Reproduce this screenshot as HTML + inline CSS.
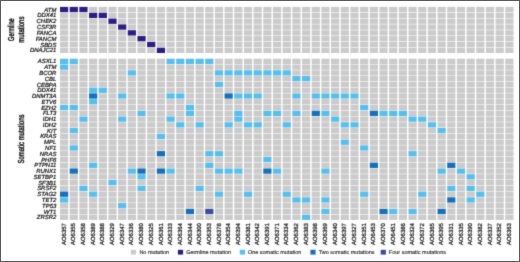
<!DOCTYPE html>
<html><head><meta charset="utf-8"><style>
html,body{margin:0;padding:0;background:#fff;}
#c{position:relative;width:520px;height:262px;overflow:hidden;background:#fff;}
#c svg{position:absolute;left:0;top:0;}
text{text-rendering:geometricPrecision;}
.g{font-family:"Liberation Sans",sans-serif;font-style:italic;font-size:59.5px;fill:#111;stroke:#111;stroke-width:2.2px;text-anchor:end;}
.c{font-family:"Liberation Sans",sans-serif;font-size:5.95px;fill:#111;stroke:#111;stroke-width:0.22px;text-anchor:end;}
.l{font-family:"Liberation Sans",sans-serif;font-size:5.5px;fill:#222;stroke:#222;stroke-width:0.12px;}
.b{font-family:"Liberation Sans",sans-serif;font-size:8.6px;fill:#111;stroke:#111;stroke-width:0.42px;text-anchor:middle;}
</style></head><body><div id="c">
<svg width="520" height="262" viewBox="0 0 520 262">
<defs><filter id="bl" x="0" y="0" width="100%" height="100%" filterUnits="userSpaceOnUse" color-interpolation-filters="sRGB"><feConvolveMatrix order="3" kernelMatrix="1 6 1 6 36 6 1 6 1" edgeMode="duplicate" preserveAlpha="true"/></filter></defs>
<g filter="url(#bl)">
<rect x="0" y="0" width="520" height="262" fill="#fff"/>
<rect x="60.00" y="6.90" width="8.2" height="5.3" fill="#2d1c84"/><rect x="69.68" y="6.90" width="8.2" height="5.3" fill="#2d1c84"/><rect x="79.36" y="6.90" width="8.2" height="5.3" fill="#2d1c84"/><rect x="89.04" y="6.90" width="8.2" height="5.3" fill="#cbcbcb"/><rect x="98.72" y="6.90" width="8.2" height="5.3" fill="#cbcbcb"/><rect x="108.40" y="6.90" width="8.2" height="5.3" fill="#cbcbcb"/><rect x="118.08" y="6.90" width="8.2" height="5.3" fill="#cbcbcb"/><rect x="127.76" y="6.90" width="8.2" height="5.3" fill="#cbcbcb"/><rect x="137.44" y="6.90" width="8.2" height="5.3" fill="#cbcbcb"/><rect x="147.12" y="6.90" width="8.2" height="5.3" fill="#cbcbcb"/><rect x="156.80" y="6.90" width="8.2" height="5.3" fill="#cbcbcb"/><rect x="166.48" y="6.90" width="8.2" height="5.3" fill="#cbcbcb"/><rect x="176.16" y="6.90" width="8.2" height="5.3" fill="#cbcbcb"/><rect x="185.84" y="6.90" width="8.2" height="5.3" fill="#cbcbcb"/><rect x="195.52" y="6.90" width="8.2" height="5.3" fill="#cbcbcb"/><rect x="205.20" y="6.90" width="8.2" height="5.3" fill="#cbcbcb"/><rect x="214.88" y="6.90" width="8.2" height="5.3" fill="#cbcbcb"/><rect x="224.56" y="6.90" width="8.2" height="5.3" fill="#cbcbcb"/><rect x="234.24" y="6.90" width="8.2" height="5.3" fill="#cbcbcb"/><rect x="243.92" y="6.90" width="8.2" height="5.3" fill="#cbcbcb"/><rect x="253.60" y="6.90" width="8.2" height="5.3" fill="#cbcbcb"/><rect x="263.28" y="6.90" width="8.2" height="5.3" fill="#cbcbcb"/><rect x="272.96" y="6.90" width="8.2" height="5.3" fill="#cbcbcb"/><rect x="282.64" y="6.90" width="8.2" height="5.3" fill="#cbcbcb"/><rect x="292.32" y="6.90" width="8.2" height="5.3" fill="#cbcbcb"/><rect x="302.00" y="6.90" width="8.2" height="5.3" fill="#cbcbcb"/><rect x="311.68" y="6.90" width="8.2" height="5.3" fill="#cbcbcb"/><rect x="321.36" y="6.90" width="8.2" height="5.3" fill="#cbcbcb"/><rect x="331.04" y="6.90" width="8.2" height="5.3" fill="#cbcbcb"/><rect x="340.72" y="6.90" width="8.2" height="5.3" fill="#cbcbcb"/><rect x="350.40" y="6.90" width="8.2" height="5.3" fill="#cbcbcb"/><rect x="360.08" y="6.90" width="8.2" height="5.3" fill="#cbcbcb"/><rect x="369.76" y="6.90" width="8.2" height="5.3" fill="#cbcbcb"/><rect x="379.44" y="6.90" width="8.2" height="5.3" fill="#cbcbcb"/><rect x="389.12" y="6.90" width="8.2" height="5.3" fill="#cbcbcb"/><rect x="398.80" y="6.90" width="8.2" height="5.3" fill="#cbcbcb"/><rect x="408.48" y="6.90" width="8.2" height="5.3" fill="#cbcbcb"/><rect x="418.16" y="6.90" width="8.2" height="5.3" fill="#cbcbcb"/><rect x="427.84" y="6.90" width="8.2" height="5.3" fill="#cbcbcb"/><rect x="437.52" y="6.90" width="8.2" height="5.3" fill="#cbcbcb"/><rect x="447.20" y="6.90" width="8.2" height="5.3" fill="#cbcbcb"/><rect x="456.88" y="6.90" width="8.2" height="5.3" fill="#cbcbcb"/><rect x="466.56" y="6.90" width="8.2" height="5.3" fill="#cbcbcb"/><rect x="476.24" y="6.90" width="8.2" height="5.3" fill="#cbcbcb"/><rect x="485.92" y="6.90" width="8.2" height="5.3" fill="#cbcbcb"/><rect x="495.60" y="6.90" width="8.2" height="5.3" fill="#cbcbcb"/><rect x="505.28" y="6.90" width="8.2" height="5.3" fill="#cbcbcb"/><rect x="60.00" y="12.73" width="8.2" height="5.3" fill="#cbcbcb"/><rect x="69.68" y="12.73" width="8.2" height="5.3" fill="#cbcbcb"/><rect x="79.36" y="12.73" width="8.2" height="5.3" fill="#cbcbcb"/><rect x="89.04" y="12.73" width="8.2" height="5.3" fill="#2d1c84"/><rect x="98.72" y="12.73" width="8.2" height="5.3" fill="#2d1c84"/><rect x="108.40" y="12.73" width="8.2" height="5.3" fill="#cbcbcb"/><rect x="118.08" y="12.73" width="8.2" height="5.3" fill="#cbcbcb"/><rect x="127.76" y="12.73" width="8.2" height="5.3" fill="#cbcbcb"/><rect x="137.44" y="12.73" width="8.2" height="5.3" fill="#cbcbcb"/><rect x="147.12" y="12.73" width="8.2" height="5.3" fill="#cbcbcb"/><rect x="156.80" y="12.73" width="8.2" height="5.3" fill="#cbcbcb"/><rect x="166.48" y="12.73" width="8.2" height="5.3" fill="#cbcbcb"/><rect x="176.16" y="12.73" width="8.2" height="5.3" fill="#cbcbcb"/><rect x="185.84" y="12.73" width="8.2" height="5.3" fill="#cbcbcb"/><rect x="195.52" y="12.73" width="8.2" height="5.3" fill="#cbcbcb"/><rect x="205.20" y="12.73" width="8.2" height="5.3" fill="#cbcbcb"/><rect x="214.88" y="12.73" width="8.2" height="5.3" fill="#cbcbcb"/><rect x="224.56" y="12.73" width="8.2" height="5.3" fill="#cbcbcb"/><rect x="234.24" y="12.73" width="8.2" height="5.3" fill="#cbcbcb"/><rect x="243.92" y="12.73" width="8.2" height="5.3" fill="#cbcbcb"/><rect x="253.60" y="12.73" width="8.2" height="5.3" fill="#cbcbcb"/><rect x="263.28" y="12.73" width="8.2" height="5.3" fill="#cbcbcb"/><rect x="272.96" y="12.73" width="8.2" height="5.3" fill="#cbcbcb"/><rect x="282.64" y="12.73" width="8.2" height="5.3" fill="#cbcbcb"/><rect x="292.32" y="12.73" width="8.2" height="5.3" fill="#cbcbcb"/><rect x="302.00" y="12.73" width="8.2" height="5.3" fill="#cbcbcb"/><rect x="311.68" y="12.73" width="8.2" height="5.3" fill="#cbcbcb"/><rect x="321.36" y="12.73" width="8.2" height="5.3" fill="#cbcbcb"/><rect x="331.04" y="12.73" width="8.2" height="5.3" fill="#cbcbcb"/><rect x="340.72" y="12.73" width="8.2" height="5.3" fill="#cbcbcb"/><rect x="350.40" y="12.73" width="8.2" height="5.3" fill="#cbcbcb"/><rect x="360.08" y="12.73" width="8.2" height="5.3" fill="#cbcbcb"/><rect x="369.76" y="12.73" width="8.2" height="5.3" fill="#cbcbcb"/><rect x="379.44" y="12.73" width="8.2" height="5.3" fill="#cbcbcb"/><rect x="389.12" y="12.73" width="8.2" height="5.3" fill="#cbcbcb"/><rect x="398.80" y="12.73" width="8.2" height="5.3" fill="#cbcbcb"/><rect x="408.48" y="12.73" width="8.2" height="5.3" fill="#cbcbcb"/><rect x="418.16" y="12.73" width="8.2" height="5.3" fill="#cbcbcb"/><rect x="427.84" y="12.73" width="8.2" height="5.3" fill="#cbcbcb"/><rect x="437.52" y="12.73" width="8.2" height="5.3" fill="#cbcbcb"/><rect x="447.20" y="12.73" width="8.2" height="5.3" fill="#cbcbcb"/><rect x="456.88" y="12.73" width="8.2" height="5.3" fill="#cbcbcb"/><rect x="466.56" y="12.73" width="8.2" height="5.3" fill="#cbcbcb"/><rect x="476.24" y="12.73" width="8.2" height="5.3" fill="#cbcbcb"/><rect x="485.92" y="12.73" width="8.2" height="5.3" fill="#cbcbcb"/><rect x="495.60" y="12.73" width="8.2" height="5.3" fill="#cbcbcb"/><rect x="505.28" y="12.73" width="8.2" height="5.3" fill="#cbcbcb"/><rect x="60.00" y="18.56" width="8.2" height="5.3" fill="#cbcbcb"/><rect x="69.68" y="18.56" width="8.2" height="5.3" fill="#cbcbcb"/><rect x="79.36" y="18.56" width="8.2" height="5.3" fill="#cbcbcb"/><rect x="89.04" y="18.56" width="8.2" height="5.3" fill="#cbcbcb"/><rect x="98.72" y="18.56" width="8.2" height="5.3" fill="#cbcbcb"/><rect x="108.40" y="18.56" width="8.2" height="5.3" fill="#2d1c84"/><rect x="118.08" y="18.56" width="8.2" height="5.3" fill="#cbcbcb"/><rect x="127.76" y="18.56" width="8.2" height="5.3" fill="#cbcbcb"/><rect x="137.44" y="18.56" width="8.2" height="5.3" fill="#cbcbcb"/><rect x="147.12" y="18.56" width="8.2" height="5.3" fill="#cbcbcb"/><rect x="156.80" y="18.56" width="8.2" height="5.3" fill="#cbcbcb"/><rect x="166.48" y="18.56" width="8.2" height="5.3" fill="#cbcbcb"/><rect x="176.16" y="18.56" width="8.2" height="5.3" fill="#cbcbcb"/><rect x="185.84" y="18.56" width="8.2" height="5.3" fill="#cbcbcb"/><rect x="195.52" y="18.56" width="8.2" height="5.3" fill="#cbcbcb"/><rect x="205.20" y="18.56" width="8.2" height="5.3" fill="#cbcbcb"/><rect x="214.88" y="18.56" width="8.2" height="5.3" fill="#cbcbcb"/><rect x="224.56" y="18.56" width="8.2" height="5.3" fill="#cbcbcb"/><rect x="234.24" y="18.56" width="8.2" height="5.3" fill="#cbcbcb"/><rect x="243.92" y="18.56" width="8.2" height="5.3" fill="#cbcbcb"/><rect x="253.60" y="18.56" width="8.2" height="5.3" fill="#cbcbcb"/><rect x="263.28" y="18.56" width="8.2" height="5.3" fill="#cbcbcb"/><rect x="272.96" y="18.56" width="8.2" height="5.3" fill="#cbcbcb"/><rect x="282.64" y="18.56" width="8.2" height="5.3" fill="#cbcbcb"/><rect x="292.32" y="18.56" width="8.2" height="5.3" fill="#cbcbcb"/><rect x="302.00" y="18.56" width="8.2" height="5.3" fill="#cbcbcb"/><rect x="311.68" y="18.56" width="8.2" height="5.3" fill="#cbcbcb"/><rect x="321.36" y="18.56" width="8.2" height="5.3" fill="#cbcbcb"/><rect x="331.04" y="18.56" width="8.2" height="5.3" fill="#cbcbcb"/><rect x="340.72" y="18.56" width="8.2" height="5.3" fill="#cbcbcb"/><rect x="350.40" y="18.56" width="8.2" height="5.3" fill="#cbcbcb"/><rect x="360.08" y="18.56" width="8.2" height="5.3" fill="#cbcbcb"/><rect x="369.76" y="18.56" width="8.2" height="5.3" fill="#cbcbcb"/><rect x="379.44" y="18.56" width="8.2" height="5.3" fill="#cbcbcb"/><rect x="389.12" y="18.56" width="8.2" height="5.3" fill="#cbcbcb"/><rect x="398.80" y="18.56" width="8.2" height="5.3" fill="#cbcbcb"/><rect x="408.48" y="18.56" width="8.2" height="5.3" fill="#cbcbcb"/><rect x="418.16" y="18.56" width="8.2" height="5.3" fill="#cbcbcb"/><rect x="427.84" y="18.56" width="8.2" height="5.3" fill="#cbcbcb"/><rect x="437.52" y="18.56" width="8.2" height="5.3" fill="#cbcbcb"/><rect x="447.20" y="18.56" width="8.2" height="5.3" fill="#cbcbcb"/><rect x="456.88" y="18.56" width="8.2" height="5.3" fill="#cbcbcb"/><rect x="466.56" y="18.56" width="8.2" height="5.3" fill="#cbcbcb"/><rect x="476.24" y="18.56" width="8.2" height="5.3" fill="#cbcbcb"/><rect x="485.92" y="18.56" width="8.2" height="5.3" fill="#cbcbcb"/><rect x="495.60" y="18.56" width="8.2" height="5.3" fill="#cbcbcb"/><rect x="505.28" y="18.56" width="8.2" height="5.3" fill="#cbcbcb"/><rect x="60.00" y="24.39" width="8.2" height="5.3" fill="#cbcbcb"/><rect x="69.68" y="24.39" width="8.2" height="5.3" fill="#cbcbcb"/><rect x="79.36" y="24.39" width="8.2" height="5.3" fill="#cbcbcb"/><rect x="89.04" y="24.39" width="8.2" height="5.3" fill="#cbcbcb"/><rect x="98.72" y="24.39" width="8.2" height="5.3" fill="#cbcbcb"/><rect x="108.40" y="24.39" width="8.2" height="5.3" fill="#cbcbcb"/><rect x="118.08" y="24.39" width="8.2" height="5.3" fill="#2d1c84"/><rect x="127.76" y="24.39" width="8.2" height="5.3" fill="#cbcbcb"/><rect x="137.44" y="24.39" width="8.2" height="5.3" fill="#cbcbcb"/><rect x="147.12" y="24.39" width="8.2" height="5.3" fill="#cbcbcb"/><rect x="156.80" y="24.39" width="8.2" height="5.3" fill="#cbcbcb"/><rect x="166.48" y="24.39" width="8.2" height="5.3" fill="#cbcbcb"/><rect x="176.16" y="24.39" width="8.2" height="5.3" fill="#cbcbcb"/><rect x="185.84" y="24.39" width="8.2" height="5.3" fill="#cbcbcb"/><rect x="195.52" y="24.39" width="8.2" height="5.3" fill="#cbcbcb"/><rect x="205.20" y="24.39" width="8.2" height="5.3" fill="#cbcbcb"/><rect x="214.88" y="24.39" width="8.2" height="5.3" fill="#cbcbcb"/><rect x="224.56" y="24.39" width="8.2" height="5.3" fill="#cbcbcb"/><rect x="234.24" y="24.39" width="8.2" height="5.3" fill="#cbcbcb"/><rect x="243.92" y="24.39" width="8.2" height="5.3" fill="#cbcbcb"/><rect x="253.60" y="24.39" width="8.2" height="5.3" fill="#cbcbcb"/><rect x="263.28" y="24.39" width="8.2" height="5.3" fill="#cbcbcb"/><rect x="272.96" y="24.39" width="8.2" height="5.3" fill="#cbcbcb"/><rect x="282.64" y="24.39" width="8.2" height="5.3" fill="#cbcbcb"/><rect x="292.32" y="24.39" width="8.2" height="5.3" fill="#cbcbcb"/><rect x="302.00" y="24.39" width="8.2" height="5.3" fill="#cbcbcb"/><rect x="311.68" y="24.39" width="8.2" height="5.3" fill="#cbcbcb"/><rect x="321.36" y="24.39" width="8.2" height="5.3" fill="#cbcbcb"/><rect x="331.04" y="24.39" width="8.2" height="5.3" fill="#cbcbcb"/><rect x="340.72" y="24.39" width="8.2" height="5.3" fill="#cbcbcb"/><rect x="350.40" y="24.39" width="8.2" height="5.3" fill="#cbcbcb"/><rect x="360.08" y="24.39" width="8.2" height="5.3" fill="#cbcbcb"/><rect x="369.76" y="24.39" width="8.2" height="5.3" fill="#cbcbcb"/><rect x="379.44" y="24.39" width="8.2" height="5.3" fill="#cbcbcb"/><rect x="389.12" y="24.39" width="8.2" height="5.3" fill="#cbcbcb"/><rect x="398.80" y="24.39" width="8.2" height="5.3" fill="#cbcbcb"/><rect x="408.48" y="24.39" width="8.2" height="5.3" fill="#cbcbcb"/><rect x="418.16" y="24.39" width="8.2" height="5.3" fill="#cbcbcb"/><rect x="427.84" y="24.39" width="8.2" height="5.3" fill="#cbcbcb"/><rect x="437.52" y="24.39" width="8.2" height="5.3" fill="#cbcbcb"/><rect x="447.20" y="24.39" width="8.2" height="5.3" fill="#cbcbcb"/><rect x="456.88" y="24.39" width="8.2" height="5.3" fill="#cbcbcb"/><rect x="466.56" y="24.39" width="8.2" height="5.3" fill="#cbcbcb"/><rect x="476.24" y="24.39" width="8.2" height="5.3" fill="#cbcbcb"/><rect x="485.92" y="24.39" width="8.2" height="5.3" fill="#cbcbcb"/><rect x="495.60" y="24.39" width="8.2" height="5.3" fill="#cbcbcb"/><rect x="505.28" y="24.39" width="8.2" height="5.3" fill="#cbcbcb"/><rect x="60.00" y="30.22" width="8.2" height="5.3" fill="#cbcbcb"/><rect x="69.68" y="30.22" width="8.2" height="5.3" fill="#cbcbcb"/><rect x="79.36" y="30.22" width="8.2" height="5.3" fill="#cbcbcb"/><rect x="89.04" y="30.22" width="8.2" height="5.3" fill="#cbcbcb"/><rect x="98.72" y="30.22" width="8.2" height="5.3" fill="#cbcbcb"/><rect x="108.40" y="30.22" width="8.2" height="5.3" fill="#cbcbcb"/><rect x="118.08" y="30.22" width="8.2" height="5.3" fill="#cbcbcb"/><rect x="127.76" y="30.22" width="8.2" height="5.3" fill="#2d1c84"/><rect x="137.44" y="30.22" width="8.2" height="5.3" fill="#cbcbcb"/><rect x="147.12" y="30.22" width="8.2" height="5.3" fill="#cbcbcb"/><rect x="156.80" y="30.22" width="8.2" height="5.3" fill="#cbcbcb"/><rect x="166.48" y="30.22" width="8.2" height="5.3" fill="#cbcbcb"/><rect x="176.16" y="30.22" width="8.2" height="5.3" fill="#cbcbcb"/><rect x="185.84" y="30.22" width="8.2" height="5.3" fill="#cbcbcb"/><rect x="195.52" y="30.22" width="8.2" height="5.3" fill="#cbcbcb"/><rect x="205.20" y="30.22" width="8.2" height="5.3" fill="#cbcbcb"/><rect x="214.88" y="30.22" width="8.2" height="5.3" fill="#cbcbcb"/><rect x="224.56" y="30.22" width="8.2" height="5.3" fill="#cbcbcb"/><rect x="234.24" y="30.22" width="8.2" height="5.3" fill="#cbcbcb"/><rect x="243.92" y="30.22" width="8.2" height="5.3" fill="#cbcbcb"/><rect x="253.60" y="30.22" width="8.2" height="5.3" fill="#cbcbcb"/><rect x="263.28" y="30.22" width="8.2" height="5.3" fill="#cbcbcb"/><rect x="272.96" y="30.22" width="8.2" height="5.3" fill="#cbcbcb"/><rect x="282.64" y="30.22" width="8.2" height="5.3" fill="#cbcbcb"/><rect x="292.32" y="30.22" width="8.2" height="5.3" fill="#cbcbcb"/><rect x="302.00" y="30.22" width="8.2" height="5.3" fill="#cbcbcb"/><rect x="311.68" y="30.22" width="8.2" height="5.3" fill="#cbcbcb"/><rect x="321.36" y="30.22" width="8.2" height="5.3" fill="#cbcbcb"/><rect x="331.04" y="30.22" width="8.2" height="5.3" fill="#cbcbcb"/><rect x="340.72" y="30.22" width="8.2" height="5.3" fill="#cbcbcb"/><rect x="350.40" y="30.22" width="8.2" height="5.3" fill="#cbcbcb"/><rect x="360.08" y="30.22" width="8.2" height="5.3" fill="#cbcbcb"/><rect x="369.76" y="30.22" width="8.2" height="5.3" fill="#cbcbcb"/><rect x="379.44" y="30.22" width="8.2" height="5.3" fill="#cbcbcb"/><rect x="389.12" y="30.22" width="8.2" height="5.3" fill="#cbcbcb"/><rect x="398.80" y="30.22" width="8.2" height="5.3" fill="#cbcbcb"/><rect x="408.48" y="30.22" width="8.2" height="5.3" fill="#cbcbcb"/><rect x="418.16" y="30.22" width="8.2" height="5.3" fill="#cbcbcb"/><rect x="427.84" y="30.22" width="8.2" height="5.3" fill="#cbcbcb"/><rect x="437.52" y="30.22" width="8.2" height="5.3" fill="#cbcbcb"/><rect x="447.20" y="30.22" width="8.2" height="5.3" fill="#cbcbcb"/><rect x="456.88" y="30.22" width="8.2" height="5.3" fill="#cbcbcb"/><rect x="466.56" y="30.22" width="8.2" height="5.3" fill="#cbcbcb"/><rect x="476.24" y="30.22" width="8.2" height="5.3" fill="#cbcbcb"/><rect x="485.92" y="30.22" width="8.2" height="5.3" fill="#cbcbcb"/><rect x="495.60" y="30.22" width="8.2" height="5.3" fill="#cbcbcb"/><rect x="505.28" y="30.22" width="8.2" height="5.3" fill="#cbcbcb"/><rect x="60.00" y="36.05" width="8.2" height="5.3" fill="#cbcbcb"/><rect x="69.68" y="36.05" width="8.2" height="5.3" fill="#cbcbcb"/><rect x="79.36" y="36.05" width="8.2" height="5.3" fill="#cbcbcb"/><rect x="89.04" y="36.05" width="8.2" height="5.3" fill="#cbcbcb"/><rect x="98.72" y="36.05" width="8.2" height="5.3" fill="#cbcbcb"/><rect x="108.40" y="36.05" width="8.2" height="5.3" fill="#cbcbcb"/><rect x="118.08" y="36.05" width="8.2" height="5.3" fill="#cbcbcb"/><rect x="127.76" y="36.05" width="8.2" height="5.3" fill="#cbcbcb"/><rect x="137.44" y="36.05" width="8.2" height="5.3" fill="#2d1c84"/><rect x="147.12" y="36.05" width="8.2" height="5.3" fill="#cbcbcb"/><rect x="156.80" y="36.05" width="8.2" height="5.3" fill="#cbcbcb"/><rect x="166.48" y="36.05" width="8.2" height="5.3" fill="#cbcbcb"/><rect x="176.16" y="36.05" width="8.2" height="5.3" fill="#cbcbcb"/><rect x="185.84" y="36.05" width="8.2" height="5.3" fill="#cbcbcb"/><rect x="195.52" y="36.05" width="8.2" height="5.3" fill="#cbcbcb"/><rect x="205.20" y="36.05" width="8.2" height="5.3" fill="#cbcbcb"/><rect x="214.88" y="36.05" width="8.2" height="5.3" fill="#cbcbcb"/><rect x="224.56" y="36.05" width="8.2" height="5.3" fill="#cbcbcb"/><rect x="234.24" y="36.05" width="8.2" height="5.3" fill="#cbcbcb"/><rect x="243.92" y="36.05" width="8.2" height="5.3" fill="#cbcbcb"/><rect x="253.60" y="36.05" width="8.2" height="5.3" fill="#cbcbcb"/><rect x="263.28" y="36.05" width="8.2" height="5.3" fill="#cbcbcb"/><rect x="272.96" y="36.05" width="8.2" height="5.3" fill="#cbcbcb"/><rect x="282.64" y="36.05" width="8.2" height="5.3" fill="#cbcbcb"/><rect x="292.32" y="36.05" width="8.2" height="5.3" fill="#cbcbcb"/><rect x="302.00" y="36.05" width="8.2" height="5.3" fill="#cbcbcb"/><rect x="311.68" y="36.05" width="8.2" height="5.3" fill="#cbcbcb"/><rect x="321.36" y="36.05" width="8.2" height="5.3" fill="#cbcbcb"/><rect x="331.04" y="36.05" width="8.2" height="5.3" fill="#cbcbcb"/><rect x="340.72" y="36.05" width="8.2" height="5.3" fill="#cbcbcb"/><rect x="350.40" y="36.05" width="8.2" height="5.3" fill="#cbcbcb"/><rect x="360.08" y="36.05" width="8.2" height="5.3" fill="#cbcbcb"/><rect x="369.76" y="36.05" width="8.2" height="5.3" fill="#cbcbcb"/><rect x="379.44" y="36.05" width="8.2" height="5.3" fill="#cbcbcb"/><rect x="389.12" y="36.05" width="8.2" height="5.3" fill="#cbcbcb"/><rect x="398.80" y="36.05" width="8.2" height="5.3" fill="#cbcbcb"/><rect x="408.48" y="36.05" width="8.2" height="5.3" fill="#cbcbcb"/><rect x="418.16" y="36.05" width="8.2" height="5.3" fill="#cbcbcb"/><rect x="427.84" y="36.05" width="8.2" height="5.3" fill="#cbcbcb"/><rect x="437.52" y="36.05" width="8.2" height="5.3" fill="#cbcbcb"/><rect x="447.20" y="36.05" width="8.2" height="5.3" fill="#cbcbcb"/><rect x="456.88" y="36.05" width="8.2" height="5.3" fill="#cbcbcb"/><rect x="466.56" y="36.05" width="8.2" height="5.3" fill="#cbcbcb"/><rect x="476.24" y="36.05" width="8.2" height="5.3" fill="#cbcbcb"/><rect x="485.92" y="36.05" width="8.2" height="5.3" fill="#cbcbcb"/><rect x="495.60" y="36.05" width="8.2" height="5.3" fill="#cbcbcb"/><rect x="505.28" y="36.05" width="8.2" height="5.3" fill="#cbcbcb"/><rect x="60.00" y="41.88" width="8.2" height="5.3" fill="#cbcbcb"/><rect x="69.68" y="41.88" width="8.2" height="5.3" fill="#cbcbcb"/><rect x="79.36" y="41.88" width="8.2" height="5.3" fill="#cbcbcb"/><rect x="89.04" y="41.88" width="8.2" height="5.3" fill="#cbcbcb"/><rect x="98.72" y="41.88" width="8.2" height="5.3" fill="#cbcbcb"/><rect x="108.40" y="41.88" width="8.2" height="5.3" fill="#cbcbcb"/><rect x="118.08" y="41.88" width="8.2" height="5.3" fill="#cbcbcb"/><rect x="127.76" y="41.88" width="8.2" height="5.3" fill="#cbcbcb"/><rect x="137.44" y="41.88" width="8.2" height="5.3" fill="#cbcbcb"/><rect x="147.12" y="41.88" width="8.2" height="5.3" fill="#2d1c84"/><rect x="156.80" y="41.88" width="8.2" height="5.3" fill="#cbcbcb"/><rect x="166.48" y="41.88" width="8.2" height="5.3" fill="#cbcbcb"/><rect x="176.16" y="41.88" width="8.2" height="5.3" fill="#cbcbcb"/><rect x="185.84" y="41.88" width="8.2" height="5.3" fill="#cbcbcb"/><rect x="195.52" y="41.88" width="8.2" height="5.3" fill="#cbcbcb"/><rect x="205.20" y="41.88" width="8.2" height="5.3" fill="#cbcbcb"/><rect x="214.88" y="41.88" width="8.2" height="5.3" fill="#cbcbcb"/><rect x="224.56" y="41.88" width="8.2" height="5.3" fill="#cbcbcb"/><rect x="234.24" y="41.88" width="8.2" height="5.3" fill="#cbcbcb"/><rect x="243.92" y="41.88" width="8.2" height="5.3" fill="#cbcbcb"/><rect x="253.60" y="41.88" width="8.2" height="5.3" fill="#cbcbcb"/><rect x="263.28" y="41.88" width="8.2" height="5.3" fill="#cbcbcb"/><rect x="272.96" y="41.88" width="8.2" height="5.3" fill="#cbcbcb"/><rect x="282.64" y="41.88" width="8.2" height="5.3" fill="#cbcbcb"/><rect x="292.32" y="41.88" width="8.2" height="5.3" fill="#cbcbcb"/><rect x="302.00" y="41.88" width="8.2" height="5.3" fill="#cbcbcb"/><rect x="311.68" y="41.88" width="8.2" height="5.3" fill="#cbcbcb"/><rect x="321.36" y="41.88" width="8.2" height="5.3" fill="#cbcbcb"/><rect x="331.04" y="41.88" width="8.2" height="5.3" fill="#cbcbcb"/><rect x="340.72" y="41.88" width="8.2" height="5.3" fill="#cbcbcb"/><rect x="350.40" y="41.88" width="8.2" height="5.3" fill="#cbcbcb"/><rect x="360.08" y="41.88" width="8.2" height="5.3" fill="#cbcbcb"/><rect x="369.76" y="41.88" width="8.2" height="5.3" fill="#cbcbcb"/><rect x="379.44" y="41.88" width="8.2" height="5.3" fill="#cbcbcb"/><rect x="389.12" y="41.88" width="8.2" height="5.3" fill="#cbcbcb"/><rect x="398.80" y="41.88" width="8.2" height="5.3" fill="#cbcbcb"/><rect x="408.48" y="41.88" width="8.2" height="5.3" fill="#cbcbcb"/><rect x="418.16" y="41.88" width="8.2" height="5.3" fill="#cbcbcb"/><rect x="427.84" y="41.88" width="8.2" height="5.3" fill="#cbcbcb"/><rect x="437.52" y="41.88" width="8.2" height="5.3" fill="#cbcbcb"/><rect x="447.20" y="41.88" width="8.2" height="5.3" fill="#cbcbcb"/><rect x="456.88" y="41.88" width="8.2" height="5.3" fill="#cbcbcb"/><rect x="466.56" y="41.88" width="8.2" height="5.3" fill="#cbcbcb"/><rect x="476.24" y="41.88" width="8.2" height="5.3" fill="#cbcbcb"/><rect x="485.92" y="41.88" width="8.2" height="5.3" fill="#cbcbcb"/><rect x="495.60" y="41.88" width="8.2" height="5.3" fill="#cbcbcb"/><rect x="505.28" y="41.88" width="8.2" height="5.3" fill="#cbcbcb"/><rect x="60.00" y="47.71" width="8.2" height="5.3" fill="#cbcbcb"/><rect x="69.68" y="47.71" width="8.2" height="5.3" fill="#cbcbcb"/><rect x="79.36" y="47.71" width="8.2" height="5.3" fill="#cbcbcb"/><rect x="89.04" y="47.71" width="8.2" height="5.3" fill="#cbcbcb"/><rect x="98.72" y="47.71" width="8.2" height="5.3" fill="#cbcbcb"/><rect x="108.40" y="47.71" width="8.2" height="5.3" fill="#cbcbcb"/><rect x="118.08" y="47.71" width="8.2" height="5.3" fill="#cbcbcb"/><rect x="127.76" y="47.71" width="8.2" height="5.3" fill="#cbcbcb"/><rect x="137.44" y="47.71" width="8.2" height="5.3" fill="#cbcbcb"/><rect x="147.12" y="47.71" width="8.2" height="5.3" fill="#cbcbcb"/><rect x="156.80" y="47.71" width="8.2" height="5.3" fill="#2d1c84"/><rect x="166.48" y="47.71" width="8.2" height="5.3" fill="#cbcbcb"/><rect x="176.16" y="47.71" width="8.2" height="5.3" fill="#cbcbcb"/><rect x="185.84" y="47.71" width="8.2" height="5.3" fill="#cbcbcb"/><rect x="195.52" y="47.71" width="8.2" height="5.3" fill="#cbcbcb"/><rect x="205.20" y="47.71" width="8.2" height="5.3" fill="#cbcbcb"/><rect x="214.88" y="47.71" width="8.2" height="5.3" fill="#cbcbcb"/><rect x="224.56" y="47.71" width="8.2" height="5.3" fill="#cbcbcb"/><rect x="234.24" y="47.71" width="8.2" height="5.3" fill="#cbcbcb"/><rect x="243.92" y="47.71" width="8.2" height="5.3" fill="#cbcbcb"/><rect x="253.60" y="47.71" width="8.2" height="5.3" fill="#cbcbcb"/><rect x="263.28" y="47.71" width="8.2" height="5.3" fill="#cbcbcb"/><rect x="272.96" y="47.71" width="8.2" height="5.3" fill="#cbcbcb"/><rect x="282.64" y="47.71" width="8.2" height="5.3" fill="#cbcbcb"/><rect x="292.32" y="47.71" width="8.2" height="5.3" fill="#cbcbcb"/><rect x="302.00" y="47.71" width="8.2" height="5.3" fill="#cbcbcb"/><rect x="311.68" y="47.71" width="8.2" height="5.3" fill="#cbcbcb"/><rect x="321.36" y="47.71" width="8.2" height="5.3" fill="#cbcbcb"/><rect x="331.04" y="47.71" width="8.2" height="5.3" fill="#cbcbcb"/><rect x="340.72" y="47.71" width="8.2" height="5.3" fill="#cbcbcb"/><rect x="350.40" y="47.71" width="8.2" height="5.3" fill="#cbcbcb"/><rect x="360.08" y="47.71" width="8.2" height="5.3" fill="#cbcbcb"/><rect x="369.76" y="47.71" width="8.2" height="5.3" fill="#cbcbcb"/><rect x="379.44" y="47.71" width="8.2" height="5.3" fill="#cbcbcb"/><rect x="389.12" y="47.71" width="8.2" height="5.3" fill="#cbcbcb"/><rect x="398.80" y="47.71" width="8.2" height="5.3" fill="#cbcbcb"/><rect x="408.48" y="47.71" width="8.2" height="5.3" fill="#cbcbcb"/><rect x="418.16" y="47.71" width="8.2" height="5.3" fill="#cbcbcb"/><rect x="427.84" y="47.71" width="8.2" height="5.3" fill="#cbcbcb"/><rect x="437.52" y="47.71" width="8.2" height="5.3" fill="#cbcbcb"/><rect x="447.20" y="47.71" width="8.2" height="5.3" fill="#cbcbcb"/><rect x="456.88" y="47.71" width="8.2" height="5.3" fill="#cbcbcb"/><rect x="466.56" y="47.71" width="8.2" height="5.3" fill="#cbcbcb"/><rect x="476.24" y="47.71" width="8.2" height="5.3" fill="#cbcbcb"/><rect x="485.92" y="47.71" width="8.2" height="5.3" fill="#cbcbcb"/><rect x="495.60" y="47.71" width="8.2" height="5.3" fill="#cbcbcb"/><rect x="505.28" y="47.71" width="8.2" height="5.3" fill="#cbcbcb"/><rect x="60.00" y="58.70" width="8.2" height="5.3" fill="#56bfee"/><rect x="69.68" y="58.70" width="8.2" height="5.3" fill="#56bfee"/><rect x="79.36" y="58.70" width="8.2" height="5.3" fill="#cbcbcb"/><rect x="89.04" y="58.70" width="8.2" height="5.3" fill="#cbcbcb"/><rect x="98.72" y="58.70" width="8.2" height="5.3" fill="#cbcbcb"/><rect x="108.40" y="58.70" width="8.2" height="5.3" fill="#cbcbcb"/><rect x="118.08" y="58.70" width="8.2" height="5.3" fill="#cbcbcb"/><rect x="127.76" y="58.70" width="8.2" height="5.3" fill="#cbcbcb"/><rect x="137.44" y="58.70" width="8.2" height="5.3" fill="#cbcbcb"/><rect x="147.12" y="58.70" width="8.2" height="5.3" fill="#cbcbcb"/><rect x="156.80" y="58.70" width="8.2" height="5.3" fill="#cbcbcb"/><rect x="166.48" y="58.70" width="8.2" height="5.3" fill="#56bfee"/><rect x="176.16" y="58.70" width="8.2" height="5.3" fill="#56bfee"/><rect x="185.84" y="58.70" width="8.2" height="5.3" fill="#56bfee"/><rect x="195.52" y="58.70" width="8.2" height="5.3" fill="#56bfee"/><rect x="205.20" y="58.70" width="8.2" height="5.3" fill="#56bfee"/><rect x="214.88" y="58.70" width="8.2" height="5.3" fill="#cbcbcb"/><rect x="224.56" y="58.70" width="8.2" height="5.3" fill="#cbcbcb"/><rect x="234.24" y="58.70" width="8.2" height="5.3" fill="#cbcbcb"/><rect x="243.92" y="58.70" width="8.2" height="5.3" fill="#cbcbcb"/><rect x="253.60" y="58.70" width="8.2" height="5.3" fill="#cbcbcb"/><rect x="263.28" y="58.70" width="8.2" height="5.3" fill="#cbcbcb"/><rect x="272.96" y="58.70" width="8.2" height="5.3" fill="#cbcbcb"/><rect x="282.64" y="58.70" width="8.2" height="5.3" fill="#cbcbcb"/><rect x="292.32" y="58.70" width="8.2" height="5.3" fill="#cbcbcb"/><rect x="302.00" y="58.70" width="8.2" height="5.3" fill="#cbcbcb"/><rect x="311.68" y="58.70" width="8.2" height="5.3" fill="#cbcbcb"/><rect x="321.36" y="58.70" width="8.2" height="5.3" fill="#cbcbcb"/><rect x="331.04" y="58.70" width="8.2" height="5.3" fill="#cbcbcb"/><rect x="340.72" y="58.70" width="8.2" height="5.3" fill="#cbcbcb"/><rect x="350.40" y="58.70" width="8.2" height="5.3" fill="#cbcbcb"/><rect x="360.08" y="58.70" width="8.2" height="5.3" fill="#cbcbcb"/><rect x="369.76" y="58.70" width="8.2" height="5.3" fill="#cbcbcb"/><rect x="379.44" y="58.70" width="8.2" height="5.3" fill="#cbcbcb"/><rect x="389.12" y="58.70" width="8.2" height="5.3" fill="#cbcbcb"/><rect x="398.80" y="58.70" width="8.2" height="5.3" fill="#cbcbcb"/><rect x="408.48" y="58.70" width="8.2" height="5.3" fill="#cbcbcb"/><rect x="418.16" y="58.70" width="8.2" height="5.3" fill="#cbcbcb"/><rect x="427.84" y="58.70" width="8.2" height="5.3" fill="#cbcbcb"/><rect x="437.52" y="58.70" width="8.2" height="5.3" fill="#cbcbcb"/><rect x="447.20" y="58.70" width="8.2" height="5.3" fill="#cbcbcb"/><rect x="456.88" y="58.70" width="8.2" height="5.3" fill="#cbcbcb"/><rect x="466.56" y="58.70" width="8.2" height="5.3" fill="#cbcbcb"/><rect x="476.24" y="58.70" width="8.2" height="5.3" fill="#cbcbcb"/><rect x="485.92" y="58.70" width="8.2" height="5.3" fill="#cbcbcb"/><rect x="495.60" y="58.70" width="8.2" height="5.3" fill="#cbcbcb"/><rect x="505.28" y="58.70" width="8.2" height="5.3" fill="#cbcbcb"/><rect x="60.00" y="64.48" width="8.2" height="5.3" fill="#56bfee"/><rect x="69.68" y="64.48" width="8.2" height="5.3" fill="#cbcbcb"/><rect x="79.36" y="64.48" width="8.2" height="5.3" fill="#cbcbcb"/><rect x="89.04" y="64.48" width="8.2" height="5.3" fill="#cbcbcb"/><rect x="98.72" y="64.48" width="8.2" height="5.3" fill="#cbcbcb"/><rect x="108.40" y="64.48" width="8.2" height="5.3" fill="#cbcbcb"/><rect x="118.08" y="64.48" width="8.2" height="5.3" fill="#cbcbcb"/><rect x="127.76" y="64.48" width="8.2" height="5.3" fill="#cbcbcb"/><rect x="137.44" y="64.48" width="8.2" height="5.3" fill="#cbcbcb"/><rect x="147.12" y="64.48" width="8.2" height="5.3" fill="#cbcbcb"/><rect x="156.80" y="64.48" width="8.2" height="5.3" fill="#cbcbcb"/><rect x="166.48" y="64.48" width="8.2" height="5.3" fill="#cbcbcb"/><rect x="176.16" y="64.48" width="8.2" height="5.3" fill="#cbcbcb"/><rect x="185.84" y="64.48" width="8.2" height="5.3" fill="#cbcbcb"/><rect x="195.52" y="64.48" width="8.2" height="5.3" fill="#cbcbcb"/><rect x="205.20" y="64.48" width="8.2" height="5.3" fill="#cbcbcb"/><rect x="214.88" y="64.48" width="8.2" height="5.3" fill="#cbcbcb"/><rect x="224.56" y="64.48" width="8.2" height="5.3" fill="#cbcbcb"/><rect x="234.24" y="64.48" width="8.2" height="5.3" fill="#cbcbcb"/><rect x="243.92" y="64.48" width="8.2" height="5.3" fill="#cbcbcb"/><rect x="253.60" y="64.48" width="8.2" height="5.3" fill="#cbcbcb"/><rect x="263.28" y="64.48" width="8.2" height="5.3" fill="#cbcbcb"/><rect x="272.96" y="64.48" width="8.2" height="5.3" fill="#cbcbcb"/><rect x="282.64" y="64.48" width="8.2" height="5.3" fill="#cbcbcb"/><rect x="292.32" y="64.48" width="8.2" height="5.3" fill="#cbcbcb"/><rect x="302.00" y="64.48" width="8.2" height="5.3" fill="#cbcbcb"/><rect x="311.68" y="64.48" width="8.2" height="5.3" fill="#cbcbcb"/><rect x="321.36" y="64.48" width="8.2" height="5.3" fill="#cbcbcb"/><rect x="331.04" y="64.48" width="8.2" height="5.3" fill="#cbcbcb"/><rect x="340.72" y="64.48" width="8.2" height="5.3" fill="#cbcbcb"/><rect x="350.40" y="64.48" width="8.2" height="5.3" fill="#cbcbcb"/><rect x="360.08" y="64.48" width="8.2" height="5.3" fill="#cbcbcb"/><rect x="369.76" y="64.48" width="8.2" height="5.3" fill="#cbcbcb"/><rect x="379.44" y="64.48" width="8.2" height="5.3" fill="#cbcbcb"/><rect x="389.12" y="64.48" width="8.2" height="5.3" fill="#cbcbcb"/><rect x="398.80" y="64.48" width="8.2" height="5.3" fill="#cbcbcb"/><rect x="408.48" y="64.48" width="8.2" height="5.3" fill="#cbcbcb"/><rect x="418.16" y="64.48" width="8.2" height="5.3" fill="#cbcbcb"/><rect x="427.84" y="64.48" width="8.2" height="5.3" fill="#cbcbcb"/><rect x="437.52" y="64.48" width="8.2" height="5.3" fill="#cbcbcb"/><rect x="447.20" y="64.48" width="8.2" height="5.3" fill="#cbcbcb"/><rect x="456.88" y="64.48" width="8.2" height="5.3" fill="#cbcbcb"/><rect x="466.56" y="64.48" width="8.2" height="5.3" fill="#cbcbcb"/><rect x="476.24" y="64.48" width="8.2" height="5.3" fill="#cbcbcb"/><rect x="485.92" y="64.48" width="8.2" height="5.3" fill="#cbcbcb"/><rect x="495.60" y="64.48" width="8.2" height="5.3" fill="#cbcbcb"/><rect x="505.28" y="64.48" width="8.2" height="5.3" fill="#cbcbcb"/><rect x="60.00" y="70.25" width="8.2" height="5.3" fill="#cbcbcb"/><rect x="69.68" y="70.25" width="8.2" height="5.3" fill="#cbcbcb"/><rect x="79.36" y="70.25" width="8.2" height="5.3" fill="#cbcbcb"/><rect x="89.04" y="70.25" width="8.2" height="5.3" fill="#cbcbcb"/><rect x="98.72" y="70.25" width="8.2" height="5.3" fill="#cbcbcb"/><rect x="108.40" y="70.25" width="8.2" height="5.3" fill="#cbcbcb"/><rect x="118.08" y="70.25" width="8.2" height="5.3" fill="#cbcbcb"/><rect x="127.76" y="70.25" width="8.2" height="5.3" fill="#56bfee"/><rect x="137.44" y="70.25" width="8.2" height="5.3" fill="#cbcbcb"/><rect x="147.12" y="70.25" width="8.2" height="5.3" fill="#cbcbcb"/><rect x="156.80" y="70.25" width="8.2" height="5.3" fill="#cbcbcb"/><rect x="166.48" y="70.25" width="8.2" height="5.3" fill="#cbcbcb"/><rect x="176.16" y="70.25" width="8.2" height="5.3" fill="#cbcbcb"/><rect x="185.84" y="70.25" width="8.2" height="5.3" fill="#cbcbcb"/><rect x="195.52" y="70.25" width="8.2" height="5.3" fill="#cbcbcb"/><rect x="205.20" y="70.25" width="8.2" height="5.3" fill="#cbcbcb"/><rect x="214.88" y="70.25" width="8.2" height="5.3" fill="#56bfee"/><rect x="224.56" y="70.25" width="8.2" height="5.3" fill="#56bfee"/><rect x="234.24" y="70.25" width="8.2" height="5.3" fill="#56bfee"/><rect x="243.92" y="70.25" width="8.2" height="5.3" fill="#56bfee"/><rect x="253.60" y="70.25" width="8.2" height="5.3" fill="#56bfee"/><rect x="263.28" y="70.25" width="8.2" height="5.3" fill="#56bfee"/><rect x="272.96" y="70.25" width="8.2" height="5.3" fill="#56bfee"/><rect x="282.64" y="70.25" width="8.2" height="5.3" fill="#56bfee"/><rect x="292.32" y="70.25" width="8.2" height="5.3" fill="#cbcbcb"/><rect x="302.00" y="70.25" width="8.2" height="5.3" fill="#cbcbcb"/><rect x="311.68" y="70.25" width="8.2" height="5.3" fill="#cbcbcb"/><rect x="321.36" y="70.25" width="8.2" height="5.3" fill="#cbcbcb"/><rect x="331.04" y="70.25" width="8.2" height="5.3" fill="#cbcbcb"/><rect x="340.72" y="70.25" width="8.2" height="5.3" fill="#cbcbcb"/><rect x="350.40" y="70.25" width="8.2" height="5.3" fill="#cbcbcb"/><rect x="360.08" y="70.25" width="8.2" height="5.3" fill="#cbcbcb"/><rect x="369.76" y="70.25" width="8.2" height="5.3" fill="#cbcbcb"/><rect x="379.44" y="70.25" width="8.2" height="5.3" fill="#cbcbcb"/><rect x="389.12" y="70.25" width="8.2" height="5.3" fill="#cbcbcb"/><rect x="398.80" y="70.25" width="8.2" height="5.3" fill="#cbcbcb"/><rect x="408.48" y="70.25" width="8.2" height="5.3" fill="#cbcbcb"/><rect x="418.16" y="70.25" width="8.2" height="5.3" fill="#cbcbcb"/><rect x="427.84" y="70.25" width="8.2" height="5.3" fill="#cbcbcb"/><rect x="437.52" y="70.25" width="8.2" height="5.3" fill="#cbcbcb"/><rect x="447.20" y="70.25" width="8.2" height="5.3" fill="#cbcbcb"/><rect x="456.88" y="70.25" width="8.2" height="5.3" fill="#cbcbcb"/><rect x="466.56" y="70.25" width="8.2" height="5.3" fill="#cbcbcb"/><rect x="476.24" y="70.25" width="8.2" height="5.3" fill="#cbcbcb"/><rect x="485.92" y="70.25" width="8.2" height="5.3" fill="#cbcbcb"/><rect x="495.60" y="70.25" width="8.2" height="5.3" fill="#cbcbcb"/><rect x="505.28" y="70.25" width="8.2" height="5.3" fill="#cbcbcb"/><rect x="60.00" y="76.03" width="8.2" height="5.3" fill="#cbcbcb"/><rect x="69.68" y="76.03" width="8.2" height="5.3" fill="#cbcbcb"/><rect x="79.36" y="76.03" width="8.2" height="5.3" fill="#cbcbcb"/><rect x="89.04" y="76.03" width="8.2" height="5.3" fill="#cbcbcb"/><rect x="98.72" y="76.03" width="8.2" height="5.3" fill="#cbcbcb"/><rect x="108.40" y="76.03" width="8.2" height="5.3" fill="#cbcbcb"/><rect x="118.08" y="76.03" width="8.2" height="5.3" fill="#cbcbcb"/><rect x="127.76" y="76.03" width="8.2" height="5.3" fill="#cbcbcb"/><rect x="137.44" y="76.03" width="8.2" height="5.3" fill="#cbcbcb"/><rect x="147.12" y="76.03" width="8.2" height="5.3" fill="#cbcbcb"/><rect x="156.80" y="76.03" width="8.2" height="5.3" fill="#cbcbcb"/><rect x="166.48" y="76.03" width="8.2" height="5.3" fill="#cbcbcb"/><rect x="176.16" y="76.03" width="8.2" height="5.3" fill="#cbcbcb"/><rect x="185.84" y="76.03" width="8.2" height="5.3" fill="#cbcbcb"/><rect x="195.52" y="76.03" width="8.2" height="5.3" fill="#cbcbcb"/><rect x="205.20" y="76.03" width="8.2" height="5.3" fill="#cbcbcb"/><rect x="214.88" y="76.03" width="8.2" height="5.3" fill="#cbcbcb"/><rect x="224.56" y="76.03" width="8.2" height="5.3" fill="#cbcbcb"/><rect x="234.24" y="76.03" width="8.2" height="5.3" fill="#cbcbcb"/><rect x="243.92" y="76.03" width="8.2" height="5.3" fill="#cbcbcb"/><rect x="253.60" y="76.03" width="8.2" height="5.3" fill="#cbcbcb"/><rect x="263.28" y="76.03" width="8.2" height="5.3" fill="#cbcbcb"/><rect x="272.96" y="76.03" width="8.2" height="5.3" fill="#cbcbcb"/><rect x="282.64" y="76.03" width="8.2" height="5.3" fill="#cbcbcb"/><rect x="292.32" y="76.03" width="8.2" height="5.3" fill="#56bfee"/><rect x="302.00" y="76.03" width="8.2" height="5.3" fill="#56bfee"/><rect x="311.68" y="76.03" width="8.2" height="5.3" fill="#cbcbcb"/><rect x="321.36" y="76.03" width="8.2" height="5.3" fill="#cbcbcb"/><rect x="331.04" y="76.03" width="8.2" height="5.3" fill="#cbcbcb"/><rect x="340.72" y="76.03" width="8.2" height="5.3" fill="#cbcbcb"/><rect x="350.40" y="76.03" width="8.2" height="5.3" fill="#cbcbcb"/><rect x="360.08" y="76.03" width="8.2" height="5.3" fill="#cbcbcb"/><rect x="369.76" y="76.03" width="8.2" height="5.3" fill="#cbcbcb"/><rect x="379.44" y="76.03" width="8.2" height="5.3" fill="#cbcbcb"/><rect x="389.12" y="76.03" width="8.2" height="5.3" fill="#cbcbcb"/><rect x="398.80" y="76.03" width="8.2" height="5.3" fill="#cbcbcb"/><rect x="408.48" y="76.03" width="8.2" height="5.3" fill="#cbcbcb"/><rect x="418.16" y="76.03" width="8.2" height="5.3" fill="#cbcbcb"/><rect x="427.84" y="76.03" width="8.2" height="5.3" fill="#cbcbcb"/><rect x="437.52" y="76.03" width="8.2" height="5.3" fill="#cbcbcb"/><rect x="447.20" y="76.03" width="8.2" height="5.3" fill="#cbcbcb"/><rect x="456.88" y="76.03" width="8.2" height="5.3" fill="#cbcbcb"/><rect x="466.56" y="76.03" width="8.2" height="5.3" fill="#cbcbcb"/><rect x="476.24" y="76.03" width="8.2" height="5.3" fill="#cbcbcb"/><rect x="485.92" y="76.03" width="8.2" height="5.3" fill="#cbcbcb"/><rect x="495.60" y="76.03" width="8.2" height="5.3" fill="#cbcbcb"/><rect x="505.28" y="76.03" width="8.2" height="5.3" fill="#cbcbcb"/><rect x="60.00" y="81.80" width="8.2" height="5.3" fill="#cbcbcb"/><rect x="69.68" y="81.80" width="8.2" height="5.3" fill="#cbcbcb"/><rect x="79.36" y="81.80" width="8.2" height="5.3" fill="#cbcbcb"/><rect x="89.04" y="81.80" width="8.2" height="5.3" fill="#cbcbcb"/><rect x="98.72" y="81.80" width="8.2" height="5.3" fill="#cbcbcb"/><rect x="108.40" y="81.80" width="8.2" height="5.3" fill="#cbcbcb"/><rect x="118.08" y="81.80" width="8.2" height="5.3" fill="#cbcbcb"/><rect x="127.76" y="81.80" width="8.2" height="5.3" fill="#cbcbcb"/><rect x="137.44" y="81.80" width="8.2" height="5.3" fill="#cbcbcb"/><rect x="147.12" y="81.80" width="8.2" height="5.3" fill="#cbcbcb"/><rect x="156.80" y="81.80" width="8.2" height="5.3" fill="#cbcbcb"/><rect x="166.48" y="81.80" width="8.2" height="5.3" fill="#cbcbcb"/><rect x="176.16" y="81.80" width="8.2" height="5.3" fill="#cbcbcb"/><rect x="185.84" y="81.80" width="8.2" height="5.3" fill="#cbcbcb"/><rect x="195.52" y="81.80" width="8.2" height="5.3" fill="#cbcbcb"/><rect x="205.20" y="81.80" width="8.2" height="5.3" fill="#cbcbcb"/><rect x="214.88" y="81.80" width="8.2" height="5.3" fill="#56bfee"/><rect x="224.56" y="81.80" width="8.2" height="5.3" fill="#cbcbcb"/><rect x="234.24" y="81.80" width="8.2" height="5.3" fill="#cbcbcb"/><rect x="243.92" y="81.80" width="8.2" height="5.3" fill="#cbcbcb"/><rect x="253.60" y="81.80" width="8.2" height="5.3" fill="#cbcbcb"/><rect x="263.28" y="81.80" width="8.2" height="5.3" fill="#cbcbcb"/><rect x="272.96" y="81.80" width="8.2" height="5.3" fill="#cbcbcb"/><rect x="282.64" y="81.80" width="8.2" height="5.3" fill="#cbcbcb"/><rect x="292.32" y="81.80" width="8.2" height="5.3" fill="#cbcbcb"/><rect x="302.00" y="81.80" width="8.2" height="5.3" fill="#cbcbcb"/><rect x="311.68" y="81.80" width="8.2" height="5.3" fill="#cbcbcb"/><rect x="321.36" y="81.80" width="8.2" height="5.3" fill="#cbcbcb"/><rect x="331.04" y="81.80" width="8.2" height="5.3" fill="#cbcbcb"/><rect x="340.72" y="81.80" width="8.2" height="5.3" fill="#cbcbcb"/><rect x="350.40" y="81.80" width="8.2" height="5.3" fill="#cbcbcb"/><rect x="360.08" y="81.80" width="8.2" height="5.3" fill="#cbcbcb"/><rect x="369.76" y="81.80" width="8.2" height="5.3" fill="#cbcbcb"/><rect x="379.44" y="81.80" width="8.2" height="5.3" fill="#cbcbcb"/><rect x="389.12" y="81.80" width="8.2" height="5.3" fill="#cbcbcb"/><rect x="398.80" y="81.80" width="8.2" height="5.3" fill="#cbcbcb"/><rect x="408.48" y="81.80" width="8.2" height="5.3" fill="#cbcbcb"/><rect x="418.16" y="81.80" width="8.2" height="5.3" fill="#cbcbcb"/><rect x="427.84" y="81.80" width="8.2" height="5.3" fill="#cbcbcb"/><rect x="437.52" y="81.80" width="8.2" height="5.3" fill="#cbcbcb"/><rect x="447.20" y="81.80" width="8.2" height="5.3" fill="#cbcbcb"/><rect x="456.88" y="81.80" width="8.2" height="5.3" fill="#cbcbcb"/><rect x="466.56" y="81.80" width="8.2" height="5.3" fill="#cbcbcb"/><rect x="476.24" y="81.80" width="8.2" height="5.3" fill="#cbcbcb"/><rect x="485.92" y="81.80" width="8.2" height="5.3" fill="#cbcbcb"/><rect x="495.60" y="81.80" width="8.2" height="5.3" fill="#cbcbcb"/><rect x="505.28" y="81.80" width="8.2" height="5.3" fill="#cbcbcb"/><rect x="60.00" y="87.58" width="8.2" height="5.3" fill="#cbcbcb"/><rect x="69.68" y="87.58" width="8.2" height="5.3" fill="#cbcbcb"/><rect x="79.36" y="87.58" width="8.2" height="5.3" fill="#cbcbcb"/><rect x="89.04" y="87.58" width="8.2" height="5.3" fill="#56bfee"/><rect x="98.72" y="87.58" width="8.2" height="5.3" fill="#56bfee"/><rect x="108.40" y="87.58" width="8.2" height="5.3" fill="#cbcbcb"/><rect x="118.08" y="87.58" width="8.2" height="5.3" fill="#cbcbcb"/><rect x="127.76" y="87.58" width="8.2" height="5.3" fill="#cbcbcb"/><rect x="137.44" y="87.58" width="8.2" height="5.3" fill="#cbcbcb"/><rect x="147.12" y="87.58" width="8.2" height="5.3" fill="#cbcbcb"/><rect x="156.80" y="87.58" width="8.2" height="5.3" fill="#cbcbcb"/><rect x="166.48" y="87.58" width="8.2" height="5.3" fill="#cbcbcb"/><rect x="176.16" y="87.58" width="8.2" height="5.3" fill="#cbcbcb"/><rect x="185.84" y="87.58" width="8.2" height="5.3" fill="#cbcbcb"/><rect x="195.52" y="87.58" width="8.2" height="5.3" fill="#cbcbcb"/><rect x="205.20" y="87.58" width="8.2" height="5.3" fill="#cbcbcb"/><rect x="214.88" y="87.58" width="8.2" height="5.3" fill="#cbcbcb"/><rect x="224.56" y="87.58" width="8.2" height="5.3" fill="#cbcbcb"/><rect x="234.24" y="87.58" width="8.2" height="5.3" fill="#cbcbcb"/><rect x="243.92" y="87.58" width="8.2" height="5.3" fill="#cbcbcb"/><rect x="253.60" y="87.58" width="8.2" height="5.3" fill="#cbcbcb"/><rect x="263.28" y="87.58" width="8.2" height="5.3" fill="#cbcbcb"/><rect x="272.96" y="87.58" width="8.2" height="5.3" fill="#cbcbcb"/><rect x="282.64" y="87.58" width="8.2" height="5.3" fill="#cbcbcb"/><rect x="292.32" y="87.58" width="8.2" height="5.3" fill="#cbcbcb"/><rect x="302.00" y="87.58" width="8.2" height="5.3" fill="#cbcbcb"/><rect x="311.68" y="87.58" width="8.2" height="5.3" fill="#cbcbcb"/><rect x="321.36" y="87.58" width="8.2" height="5.3" fill="#cbcbcb"/><rect x="331.04" y="87.58" width="8.2" height="5.3" fill="#cbcbcb"/><rect x="340.72" y="87.58" width="8.2" height="5.3" fill="#cbcbcb"/><rect x="350.40" y="87.58" width="8.2" height="5.3" fill="#cbcbcb"/><rect x="360.08" y="87.58" width="8.2" height="5.3" fill="#cbcbcb"/><rect x="369.76" y="87.58" width="8.2" height="5.3" fill="#cbcbcb"/><rect x="379.44" y="87.58" width="8.2" height="5.3" fill="#cbcbcb"/><rect x="389.12" y="87.58" width="8.2" height="5.3" fill="#cbcbcb"/><rect x="398.80" y="87.58" width="8.2" height="5.3" fill="#cbcbcb"/><rect x="408.48" y="87.58" width="8.2" height="5.3" fill="#cbcbcb"/><rect x="418.16" y="87.58" width="8.2" height="5.3" fill="#cbcbcb"/><rect x="427.84" y="87.58" width="8.2" height="5.3" fill="#cbcbcb"/><rect x="437.52" y="87.58" width="8.2" height="5.3" fill="#cbcbcb"/><rect x="447.20" y="87.58" width="8.2" height="5.3" fill="#cbcbcb"/><rect x="456.88" y="87.58" width="8.2" height="5.3" fill="#cbcbcb"/><rect x="466.56" y="87.58" width="8.2" height="5.3" fill="#cbcbcb"/><rect x="476.24" y="87.58" width="8.2" height="5.3" fill="#cbcbcb"/><rect x="485.92" y="87.58" width="8.2" height="5.3" fill="#cbcbcb"/><rect x="495.60" y="87.58" width="8.2" height="5.3" fill="#cbcbcb"/><rect x="505.28" y="87.58" width="8.2" height="5.3" fill="#cbcbcb"/><rect x="60.00" y="93.35" width="8.2" height="5.3" fill="#cbcbcb"/><rect x="69.68" y="93.35" width="8.2" height="5.3" fill="#cbcbcb"/><rect x="79.36" y="93.35" width="8.2" height="5.3" fill="#cbcbcb"/><rect x="89.04" y="93.35" width="8.2" height="5.3" fill="#1470bb"/><rect x="98.72" y="93.35" width="8.2" height="5.3" fill="#cbcbcb"/><rect x="108.40" y="93.35" width="8.2" height="5.3" fill="#cbcbcb"/><rect x="118.08" y="93.35" width="8.2" height="5.3" fill="#56bfee"/><rect x="127.76" y="93.35" width="8.2" height="5.3" fill="#cbcbcb"/><rect x="137.44" y="93.35" width="8.2" height="5.3" fill="#cbcbcb"/><rect x="147.12" y="93.35" width="8.2" height="5.3" fill="#cbcbcb"/><rect x="156.80" y="93.35" width="8.2" height="5.3" fill="#cbcbcb"/><rect x="166.48" y="93.35" width="8.2" height="5.3" fill="#56bfee"/><rect x="176.16" y="93.35" width="8.2" height="5.3" fill="#56bfee"/><rect x="185.84" y="93.35" width="8.2" height="5.3" fill="#cbcbcb"/><rect x="195.52" y="93.35" width="8.2" height="5.3" fill="#cbcbcb"/><rect x="205.20" y="93.35" width="8.2" height="5.3" fill="#cbcbcb"/><rect x="214.88" y="93.35" width="8.2" height="5.3" fill="#cbcbcb"/><rect x="224.56" y="93.35" width="8.2" height="5.3" fill="#1470bb"/><rect x="234.24" y="93.35" width="8.2" height="5.3" fill="#56bfee"/><rect x="243.92" y="93.35" width="8.2" height="5.3" fill="#56bfee"/><rect x="253.60" y="93.35" width="8.2" height="5.3" fill="#56bfee"/><rect x="263.28" y="93.35" width="8.2" height="5.3" fill="#cbcbcb"/><rect x="272.96" y="93.35" width="8.2" height="5.3" fill="#cbcbcb"/><rect x="282.64" y="93.35" width="8.2" height="5.3" fill="#cbcbcb"/><rect x="292.32" y="93.35" width="8.2" height="5.3" fill="#56bfee"/><rect x="302.00" y="93.35" width="8.2" height="5.3" fill="#cbcbcb"/><rect x="311.68" y="93.35" width="8.2" height="5.3" fill="#56bfee"/><rect x="321.36" y="93.35" width="8.2" height="5.3" fill="#56bfee"/><rect x="331.04" y="93.35" width="8.2" height="5.3" fill="#56bfee"/><rect x="340.72" y="93.35" width="8.2" height="5.3" fill="#56bfee"/><rect x="350.40" y="93.35" width="8.2" height="5.3" fill="#56bfee"/><rect x="360.08" y="93.35" width="8.2" height="5.3" fill="#cbcbcb"/><rect x="369.76" y="93.35" width="8.2" height="5.3" fill="#cbcbcb"/><rect x="379.44" y="93.35" width="8.2" height="5.3" fill="#cbcbcb"/><rect x="389.12" y="93.35" width="8.2" height="5.3" fill="#cbcbcb"/><rect x="398.80" y="93.35" width="8.2" height="5.3" fill="#cbcbcb"/><rect x="408.48" y="93.35" width="8.2" height="5.3" fill="#cbcbcb"/><rect x="418.16" y="93.35" width="8.2" height="5.3" fill="#cbcbcb"/><rect x="427.84" y="93.35" width="8.2" height="5.3" fill="#cbcbcb"/><rect x="437.52" y="93.35" width="8.2" height="5.3" fill="#cbcbcb"/><rect x="447.20" y="93.35" width="8.2" height="5.3" fill="#cbcbcb"/><rect x="456.88" y="93.35" width="8.2" height="5.3" fill="#cbcbcb"/><rect x="466.56" y="93.35" width="8.2" height="5.3" fill="#cbcbcb"/><rect x="476.24" y="93.35" width="8.2" height="5.3" fill="#cbcbcb"/><rect x="485.92" y="93.35" width="8.2" height="5.3" fill="#cbcbcb"/><rect x="495.60" y="93.35" width="8.2" height="5.3" fill="#cbcbcb"/><rect x="505.28" y="93.35" width="8.2" height="5.3" fill="#cbcbcb"/><rect x="60.00" y="99.12" width="8.2" height="5.3" fill="#cbcbcb"/><rect x="69.68" y="99.12" width="8.2" height="5.3" fill="#cbcbcb"/><rect x="79.36" y="99.12" width="8.2" height="5.3" fill="#cbcbcb"/><rect x="89.04" y="99.12" width="8.2" height="5.3" fill="#56bfee"/><rect x="98.72" y="99.12" width="8.2" height="5.3" fill="#cbcbcb"/><rect x="108.40" y="99.12" width="8.2" height="5.3" fill="#cbcbcb"/><rect x="118.08" y="99.12" width="8.2" height="5.3" fill="#cbcbcb"/><rect x="127.76" y="99.12" width="8.2" height="5.3" fill="#cbcbcb"/><rect x="137.44" y="99.12" width="8.2" height="5.3" fill="#cbcbcb"/><rect x="147.12" y="99.12" width="8.2" height="5.3" fill="#cbcbcb"/><rect x="156.80" y="99.12" width="8.2" height="5.3" fill="#cbcbcb"/><rect x="166.48" y="99.12" width="8.2" height="5.3" fill="#cbcbcb"/><rect x="176.16" y="99.12" width="8.2" height="5.3" fill="#cbcbcb"/><rect x="185.84" y="99.12" width="8.2" height="5.3" fill="#cbcbcb"/><rect x="195.52" y="99.12" width="8.2" height="5.3" fill="#cbcbcb"/><rect x="205.20" y="99.12" width="8.2" height="5.3" fill="#cbcbcb"/><rect x="214.88" y="99.12" width="8.2" height="5.3" fill="#cbcbcb"/><rect x="224.56" y="99.12" width="8.2" height="5.3" fill="#cbcbcb"/><rect x="234.24" y="99.12" width="8.2" height="5.3" fill="#cbcbcb"/><rect x="243.92" y="99.12" width="8.2" height="5.3" fill="#cbcbcb"/><rect x="253.60" y="99.12" width="8.2" height="5.3" fill="#cbcbcb"/><rect x="263.28" y="99.12" width="8.2" height="5.3" fill="#cbcbcb"/><rect x="272.96" y="99.12" width="8.2" height="5.3" fill="#cbcbcb"/><rect x="282.64" y="99.12" width="8.2" height="5.3" fill="#cbcbcb"/><rect x="292.32" y="99.12" width="8.2" height="5.3" fill="#cbcbcb"/><rect x="302.00" y="99.12" width="8.2" height="5.3" fill="#cbcbcb"/><rect x="311.68" y="99.12" width="8.2" height="5.3" fill="#cbcbcb"/><rect x="321.36" y="99.12" width="8.2" height="5.3" fill="#cbcbcb"/><rect x="331.04" y="99.12" width="8.2" height="5.3" fill="#cbcbcb"/><rect x="340.72" y="99.12" width="8.2" height="5.3" fill="#cbcbcb"/><rect x="350.40" y="99.12" width="8.2" height="5.3" fill="#cbcbcb"/><rect x="360.08" y="99.12" width="8.2" height="5.3" fill="#cbcbcb"/><rect x="369.76" y="99.12" width="8.2" height="5.3" fill="#cbcbcb"/><rect x="379.44" y="99.12" width="8.2" height="5.3" fill="#cbcbcb"/><rect x="389.12" y="99.12" width="8.2" height="5.3" fill="#cbcbcb"/><rect x="398.80" y="99.12" width="8.2" height="5.3" fill="#cbcbcb"/><rect x="408.48" y="99.12" width="8.2" height="5.3" fill="#cbcbcb"/><rect x="418.16" y="99.12" width="8.2" height="5.3" fill="#cbcbcb"/><rect x="427.84" y="99.12" width="8.2" height="5.3" fill="#cbcbcb"/><rect x="437.52" y="99.12" width="8.2" height="5.3" fill="#cbcbcb"/><rect x="447.20" y="99.12" width="8.2" height="5.3" fill="#cbcbcb"/><rect x="456.88" y="99.12" width="8.2" height="5.3" fill="#cbcbcb"/><rect x="466.56" y="99.12" width="8.2" height="5.3" fill="#cbcbcb"/><rect x="476.24" y="99.12" width="8.2" height="5.3" fill="#cbcbcb"/><rect x="485.92" y="99.12" width="8.2" height="5.3" fill="#cbcbcb"/><rect x="495.60" y="99.12" width="8.2" height="5.3" fill="#cbcbcb"/><rect x="505.28" y="99.12" width="8.2" height="5.3" fill="#cbcbcb"/><rect x="60.00" y="104.90" width="8.2" height="5.3" fill="#56bfee"/><rect x="69.68" y="104.90" width="8.2" height="5.3" fill="#56bfee"/><rect x="79.36" y="104.90" width="8.2" height="5.3" fill="#cbcbcb"/><rect x="89.04" y="104.90" width="8.2" height="5.3" fill="#cbcbcb"/><rect x="98.72" y="104.90" width="8.2" height="5.3" fill="#cbcbcb"/><rect x="108.40" y="104.90" width="8.2" height="5.3" fill="#cbcbcb"/><rect x="118.08" y="104.90" width="8.2" height="5.3" fill="#cbcbcb"/><rect x="127.76" y="104.90" width="8.2" height="5.3" fill="#cbcbcb"/><rect x="137.44" y="104.90" width="8.2" height="5.3" fill="#cbcbcb"/><rect x="147.12" y="104.90" width="8.2" height="5.3" fill="#cbcbcb"/><rect x="156.80" y="104.90" width="8.2" height="5.3" fill="#cbcbcb"/><rect x="166.48" y="104.90" width="8.2" height="5.3" fill="#cbcbcb"/><rect x="176.16" y="104.90" width="8.2" height="5.3" fill="#cbcbcb"/><rect x="185.84" y="104.90" width="8.2" height="5.3" fill="#56bfee"/><rect x="195.52" y="104.90" width="8.2" height="5.3" fill="#cbcbcb"/><rect x="205.20" y="104.90" width="8.2" height="5.3" fill="#cbcbcb"/><rect x="214.88" y="104.90" width="8.2" height="5.3" fill="#cbcbcb"/><rect x="224.56" y="104.90" width="8.2" height="5.3" fill="#cbcbcb"/><rect x="234.24" y="104.90" width="8.2" height="5.3" fill="#cbcbcb"/><rect x="243.92" y="104.90" width="8.2" height="5.3" fill="#cbcbcb"/><rect x="253.60" y="104.90" width="8.2" height="5.3" fill="#cbcbcb"/><rect x="263.28" y="104.90" width="8.2" height="5.3" fill="#cbcbcb"/><rect x="272.96" y="104.90" width="8.2" height="5.3" fill="#cbcbcb"/><rect x="282.64" y="104.90" width="8.2" height="5.3" fill="#cbcbcb"/><rect x="292.32" y="104.90" width="8.2" height="5.3" fill="#cbcbcb"/><rect x="302.00" y="104.90" width="8.2" height="5.3" fill="#cbcbcb"/><rect x="311.68" y="104.90" width="8.2" height="5.3" fill="#cbcbcb"/><rect x="321.36" y="104.90" width="8.2" height="5.3" fill="#cbcbcb"/><rect x="331.04" y="104.90" width="8.2" height="5.3" fill="#cbcbcb"/><rect x="340.72" y="104.90" width="8.2" height="5.3" fill="#cbcbcb"/><rect x="350.40" y="104.90" width="8.2" height="5.3" fill="#cbcbcb"/><rect x="360.08" y="104.90" width="8.2" height="5.3" fill="#56bfee"/><rect x="369.76" y="104.90" width="8.2" height="5.3" fill="#cbcbcb"/><rect x="379.44" y="104.90" width="8.2" height="5.3" fill="#cbcbcb"/><rect x="389.12" y="104.90" width="8.2" height="5.3" fill="#cbcbcb"/><rect x="398.80" y="104.90" width="8.2" height="5.3" fill="#cbcbcb"/><rect x="408.48" y="104.90" width="8.2" height="5.3" fill="#cbcbcb"/><rect x="418.16" y="104.90" width="8.2" height="5.3" fill="#cbcbcb"/><rect x="427.84" y="104.90" width="8.2" height="5.3" fill="#cbcbcb"/><rect x="437.52" y="104.90" width="8.2" height="5.3" fill="#cbcbcb"/><rect x="447.20" y="104.90" width="8.2" height="5.3" fill="#cbcbcb"/><rect x="456.88" y="104.90" width="8.2" height="5.3" fill="#cbcbcb"/><rect x="466.56" y="104.90" width="8.2" height="5.3" fill="#cbcbcb"/><rect x="476.24" y="104.90" width="8.2" height="5.3" fill="#cbcbcb"/><rect x="485.92" y="104.90" width="8.2" height="5.3" fill="#cbcbcb"/><rect x="495.60" y="104.90" width="8.2" height="5.3" fill="#cbcbcb"/><rect x="505.28" y="104.90" width="8.2" height="5.3" fill="#cbcbcb"/><rect x="60.00" y="110.68" width="8.2" height="5.3" fill="#cbcbcb"/><rect x="69.68" y="110.68" width="8.2" height="5.3" fill="#cbcbcb"/><rect x="79.36" y="110.68" width="8.2" height="5.3" fill="#cbcbcb"/><rect x="89.04" y="110.68" width="8.2" height="5.3" fill="#cbcbcb"/><rect x="98.72" y="110.68" width="8.2" height="5.3" fill="#cbcbcb"/><rect x="108.40" y="110.68" width="8.2" height="5.3" fill="#cbcbcb"/><rect x="118.08" y="110.68" width="8.2" height="5.3" fill="#cbcbcb"/><rect x="127.76" y="110.68" width="8.2" height="5.3" fill="#cbcbcb"/><rect x="137.44" y="110.68" width="8.2" height="5.3" fill="#56bfee"/><rect x="147.12" y="110.68" width="8.2" height="5.3" fill="#cbcbcb"/><rect x="156.80" y="110.68" width="8.2" height="5.3" fill="#cbcbcb"/><rect x="166.48" y="110.68" width="8.2" height="5.3" fill="#cbcbcb"/><rect x="176.16" y="110.68" width="8.2" height="5.3" fill="#cbcbcb"/><rect x="185.84" y="110.68" width="8.2" height="5.3" fill="#56bfee"/><rect x="195.52" y="110.68" width="8.2" height="5.3" fill="#cbcbcb"/><rect x="205.20" y="110.68" width="8.2" height="5.3" fill="#cbcbcb"/><rect x="214.88" y="110.68" width="8.2" height="5.3" fill="#cbcbcb"/><rect x="224.56" y="110.68" width="8.2" height="5.3" fill="#cbcbcb"/><rect x="234.24" y="110.68" width="8.2" height="5.3" fill="#56bfee"/><rect x="243.92" y="110.68" width="8.2" height="5.3" fill="#cbcbcb"/><rect x="253.60" y="110.68" width="8.2" height="5.3" fill="#cbcbcb"/><rect x="263.28" y="110.68" width="8.2" height="5.3" fill="#56bfee"/><rect x="272.96" y="110.68" width="8.2" height="5.3" fill="#56bfee"/><rect x="282.64" y="110.68" width="8.2" height="5.3" fill="#cbcbcb"/><rect x="292.32" y="110.68" width="8.2" height="5.3" fill="#56bfee"/><rect x="302.00" y="110.68" width="8.2" height="5.3" fill="#cbcbcb"/><rect x="311.68" y="110.68" width="8.2" height="5.3" fill="#1470bb"/><rect x="321.36" y="110.68" width="8.2" height="5.3" fill="#56bfee"/><rect x="331.04" y="110.68" width="8.2" height="5.3" fill="#cbcbcb"/><rect x="340.72" y="110.68" width="8.2" height="5.3" fill="#cbcbcb"/><rect x="350.40" y="110.68" width="8.2" height="5.3" fill="#cbcbcb"/><rect x="360.08" y="110.68" width="8.2" height="5.3" fill="#cbcbcb"/><rect x="369.76" y="110.68" width="8.2" height="5.3" fill="#1470bb"/><rect x="379.44" y="110.68" width="8.2" height="5.3" fill="#56bfee"/><rect x="389.12" y="110.68" width="8.2" height="5.3" fill="#56bfee"/><rect x="398.80" y="110.68" width="8.2" height="5.3" fill="#56bfee"/><rect x="408.48" y="110.68" width="8.2" height="5.3" fill="#cbcbcb"/><rect x="418.16" y="110.68" width="8.2" height="5.3" fill="#cbcbcb"/><rect x="427.84" y="110.68" width="8.2" height="5.3" fill="#cbcbcb"/><rect x="437.52" y="110.68" width="8.2" height="5.3" fill="#cbcbcb"/><rect x="447.20" y="110.68" width="8.2" height="5.3" fill="#cbcbcb"/><rect x="456.88" y="110.68" width="8.2" height="5.3" fill="#cbcbcb"/><rect x="466.56" y="110.68" width="8.2" height="5.3" fill="#cbcbcb"/><rect x="476.24" y="110.68" width="8.2" height="5.3" fill="#cbcbcb"/><rect x="485.92" y="110.68" width="8.2" height="5.3" fill="#cbcbcb"/><rect x="495.60" y="110.68" width="8.2" height="5.3" fill="#cbcbcb"/><rect x="505.28" y="110.68" width="8.2" height="5.3" fill="#cbcbcb"/><rect x="60.00" y="116.45" width="8.2" height="5.3" fill="#cbcbcb"/><rect x="69.68" y="116.45" width="8.2" height="5.3" fill="#cbcbcb"/><rect x="79.36" y="116.45" width="8.2" height="5.3" fill="#56bfee"/><rect x="89.04" y="116.45" width="8.2" height="5.3" fill="#cbcbcb"/><rect x="98.72" y="116.45" width="8.2" height="5.3" fill="#cbcbcb"/><rect x="108.40" y="116.45" width="8.2" height="5.3" fill="#cbcbcb"/><rect x="118.08" y="116.45" width="8.2" height="5.3" fill="#56bfee"/><rect x="127.76" y="116.45" width="8.2" height="5.3" fill="#cbcbcb"/><rect x="137.44" y="116.45" width="8.2" height="5.3" fill="#cbcbcb"/><rect x="147.12" y="116.45" width="8.2" height="5.3" fill="#cbcbcb"/><rect x="156.80" y="116.45" width="8.2" height="5.3" fill="#cbcbcb"/><rect x="166.48" y="116.45" width="8.2" height="5.3" fill="#56bfee"/><rect x="176.16" y="116.45" width="8.2" height="5.3" fill="#cbcbcb"/><rect x="185.84" y="116.45" width="8.2" height="5.3" fill="#cbcbcb"/><rect x="195.52" y="116.45" width="8.2" height="5.3" fill="#cbcbcb"/><rect x="205.20" y="116.45" width="8.2" height="5.3" fill="#cbcbcb"/><rect x="214.88" y="116.45" width="8.2" height="5.3" fill="#cbcbcb"/><rect x="224.56" y="116.45" width="8.2" height="5.3" fill="#cbcbcb"/><rect x="234.24" y="116.45" width="8.2" height="5.3" fill="#56bfee"/><rect x="243.92" y="116.45" width="8.2" height="5.3" fill="#cbcbcb"/><rect x="253.60" y="116.45" width="8.2" height="5.3" fill="#cbcbcb"/><rect x="263.28" y="116.45" width="8.2" height="5.3" fill="#cbcbcb"/><rect x="272.96" y="116.45" width="8.2" height="5.3" fill="#cbcbcb"/><rect x="282.64" y="116.45" width="8.2" height="5.3" fill="#cbcbcb"/><rect x="292.32" y="116.45" width="8.2" height="5.3" fill="#cbcbcb"/><rect x="302.00" y="116.45" width="8.2" height="5.3" fill="#cbcbcb"/><rect x="311.68" y="116.45" width="8.2" height="5.3" fill="#cbcbcb"/><rect x="321.36" y="116.45" width="8.2" height="5.3" fill="#cbcbcb"/><rect x="331.04" y="116.45" width="8.2" height="5.3" fill="#56bfee"/><rect x="340.72" y="116.45" width="8.2" height="5.3" fill="#cbcbcb"/><rect x="350.40" y="116.45" width="8.2" height="5.3" fill="#cbcbcb"/><rect x="360.08" y="116.45" width="8.2" height="5.3" fill="#cbcbcb"/><rect x="369.76" y="116.45" width="8.2" height="5.3" fill="#cbcbcb"/><rect x="379.44" y="116.45" width="8.2" height="5.3" fill="#cbcbcb"/><rect x="389.12" y="116.45" width="8.2" height="5.3" fill="#cbcbcb"/><rect x="398.80" y="116.45" width="8.2" height="5.3" fill="#cbcbcb"/><rect x="408.48" y="116.45" width="8.2" height="5.3" fill="#56bfee"/><rect x="418.16" y="116.45" width="8.2" height="5.3" fill="#56bfee"/><rect x="427.84" y="116.45" width="8.2" height="5.3" fill="#cbcbcb"/><rect x="437.52" y="116.45" width="8.2" height="5.3" fill="#cbcbcb"/><rect x="447.20" y="116.45" width="8.2" height="5.3" fill="#cbcbcb"/><rect x="456.88" y="116.45" width="8.2" height="5.3" fill="#cbcbcb"/><rect x="466.56" y="116.45" width="8.2" height="5.3" fill="#cbcbcb"/><rect x="476.24" y="116.45" width="8.2" height="5.3" fill="#cbcbcb"/><rect x="485.92" y="116.45" width="8.2" height="5.3" fill="#cbcbcb"/><rect x="495.60" y="116.45" width="8.2" height="5.3" fill="#cbcbcb"/><rect x="505.28" y="116.45" width="8.2" height="5.3" fill="#cbcbcb"/><rect x="60.00" y="122.23" width="8.2" height="5.3" fill="#cbcbcb"/><rect x="69.68" y="122.23" width="8.2" height="5.3" fill="#cbcbcb"/><rect x="79.36" y="122.23" width="8.2" height="5.3" fill="#cbcbcb"/><rect x="89.04" y="122.23" width="8.2" height="5.3" fill="#cbcbcb"/><rect x="98.72" y="122.23" width="8.2" height="5.3" fill="#cbcbcb"/><rect x="108.40" y="122.23" width="8.2" height="5.3" fill="#cbcbcb"/><rect x="118.08" y="122.23" width="8.2" height="5.3" fill="#cbcbcb"/><rect x="127.76" y="122.23" width="8.2" height="5.3" fill="#cbcbcb"/><rect x="137.44" y="122.23" width="8.2" height="5.3" fill="#cbcbcb"/><rect x="147.12" y="122.23" width="8.2" height="5.3" fill="#cbcbcb"/><rect x="156.80" y="122.23" width="8.2" height="5.3" fill="#cbcbcb"/><rect x="166.48" y="122.23" width="8.2" height="5.3" fill="#cbcbcb"/><rect x="176.16" y="122.23" width="8.2" height="5.3" fill="#56bfee"/><rect x="185.84" y="122.23" width="8.2" height="5.3" fill="#cbcbcb"/><rect x="195.52" y="122.23" width="8.2" height="5.3" fill="#56bfee"/><rect x="205.20" y="122.23" width="8.2" height="5.3" fill="#cbcbcb"/><rect x="214.88" y="122.23" width="8.2" height="5.3" fill="#cbcbcb"/><rect x="224.56" y="122.23" width="8.2" height="5.3" fill="#56bfee"/><rect x="234.24" y="122.23" width="8.2" height="5.3" fill="#cbcbcb"/><rect x="243.92" y="122.23" width="8.2" height="5.3" fill="#56bfee"/><rect x="253.60" y="122.23" width="8.2" height="5.3" fill="#56bfee"/><rect x="263.28" y="122.23" width="8.2" height="5.3" fill="#cbcbcb"/><rect x="272.96" y="122.23" width="8.2" height="5.3" fill="#cbcbcb"/><rect x="282.64" y="122.23" width="8.2" height="5.3" fill="#56bfee"/><rect x="292.32" y="122.23" width="8.2" height="5.3" fill="#cbcbcb"/><rect x="302.00" y="122.23" width="8.2" height="5.3" fill="#cbcbcb"/><rect x="311.68" y="122.23" width="8.2" height="5.3" fill="#cbcbcb"/><rect x="321.36" y="122.23" width="8.2" height="5.3" fill="#cbcbcb"/><rect x="331.04" y="122.23" width="8.2" height="5.3" fill="#cbcbcb"/><rect x="340.72" y="122.23" width="8.2" height="5.3" fill="#56bfee"/><rect x="350.40" y="122.23" width="8.2" height="5.3" fill="#56bfee"/><rect x="360.08" y="122.23" width="8.2" height="5.3" fill="#cbcbcb"/><rect x="369.76" y="122.23" width="8.2" height="5.3" fill="#cbcbcb"/><rect x="379.44" y="122.23" width="8.2" height="5.3" fill="#cbcbcb"/><rect x="389.12" y="122.23" width="8.2" height="5.3" fill="#cbcbcb"/><rect x="398.80" y="122.23" width="8.2" height="5.3" fill="#cbcbcb"/><rect x="408.48" y="122.23" width="8.2" height="5.3" fill="#cbcbcb"/><rect x="418.16" y="122.23" width="8.2" height="5.3" fill="#cbcbcb"/><rect x="427.84" y="122.23" width="8.2" height="5.3" fill="#56bfee"/><rect x="437.52" y="122.23" width="8.2" height="5.3" fill="#cbcbcb"/><rect x="447.20" y="122.23" width="8.2" height="5.3" fill="#cbcbcb"/><rect x="456.88" y="122.23" width="8.2" height="5.3" fill="#cbcbcb"/><rect x="466.56" y="122.23" width="8.2" height="5.3" fill="#cbcbcb"/><rect x="476.24" y="122.23" width="8.2" height="5.3" fill="#cbcbcb"/><rect x="485.92" y="122.23" width="8.2" height="5.3" fill="#cbcbcb"/><rect x="495.60" y="122.23" width="8.2" height="5.3" fill="#cbcbcb"/><rect x="505.28" y="122.23" width="8.2" height="5.3" fill="#cbcbcb"/><rect x="60.00" y="128.00" width="8.2" height="5.3" fill="#cbcbcb"/><rect x="69.68" y="128.00" width="8.2" height="5.3" fill="#56bfee"/><rect x="79.36" y="128.00" width="8.2" height="5.3" fill="#cbcbcb"/><rect x="89.04" y="128.00" width="8.2" height="5.3" fill="#cbcbcb"/><rect x="98.72" y="128.00" width="8.2" height="5.3" fill="#cbcbcb"/><rect x="108.40" y="128.00" width="8.2" height="5.3" fill="#cbcbcb"/><rect x="118.08" y="128.00" width="8.2" height="5.3" fill="#cbcbcb"/><rect x="127.76" y="128.00" width="8.2" height="5.3" fill="#cbcbcb"/><rect x="137.44" y="128.00" width="8.2" height="5.3" fill="#cbcbcb"/><rect x="147.12" y="128.00" width="8.2" height="5.3" fill="#cbcbcb"/><rect x="156.80" y="128.00" width="8.2" height="5.3" fill="#cbcbcb"/><rect x="166.48" y="128.00" width="8.2" height="5.3" fill="#cbcbcb"/><rect x="176.16" y="128.00" width="8.2" height="5.3" fill="#cbcbcb"/><rect x="185.84" y="128.00" width="8.2" height="5.3" fill="#cbcbcb"/><rect x="195.52" y="128.00" width="8.2" height="5.3" fill="#cbcbcb"/><rect x="205.20" y="128.00" width="8.2" height="5.3" fill="#cbcbcb"/><rect x="214.88" y="128.00" width="8.2" height="5.3" fill="#cbcbcb"/><rect x="224.56" y="128.00" width="8.2" height="5.3" fill="#cbcbcb"/><rect x="234.24" y="128.00" width="8.2" height="5.3" fill="#cbcbcb"/><rect x="243.92" y="128.00" width="8.2" height="5.3" fill="#cbcbcb"/><rect x="253.60" y="128.00" width="8.2" height="5.3" fill="#cbcbcb"/><rect x="263.28" y="128.00" width="8.2" height="5.3" fill="#cbcbcb"/><rect x="272.96" y="128.00" width="8.2" height="5.3" fill="#cbcbcb"/><rect x="282.64" y="128.00" width="8.2" height="5.3" fill="#cbcbcb"/><rect x="292.32" y="128.00" width="8.2" height="5.3" fill="#cbcbcb"/><rect x="302.00" y="128.00" width="8.2" height="5.3" fill="#cbcbcb"/><rect x="311.68" y="128.00" width="8.2" height="5.3" fill="#cbcbcb"/><rect x="321.36" y="128.00" width="8.2" height="5.3" fill="#cbcbcb"/><rect x="331.04" y="128.00" width="8.2" height="5.3" fill="#cbcbcb"/><rect x="340.72" y="128.00" width="8.2" height="5.3" fill="#cbcbcb"/><rect x="350.40" y="128.00" width="8.2" height="5.3" fill="#cbcbcb"/><rect x="360.08" y="128.00" width="8.2" height="5.3" fill="#cbcbcb"/><rect x="369.76" y="128.00" width="8.2" height="5.3" fill="#cbcbcb"/><rect x="379.44" y="128.00" width="8.2" height="5.3" fill="#cbcbcb"/><rect x="389.12" y="128.00" width="8.2" height="5.3" fill="#cbcbcb"/><rect x="398.80" y="128.00" width="8.2" height="5.3" fill="#cbcbcb"/><rect x="408.48" y="128.00" width="8.2" height="5.3" fill="#cbcbcb"/><rect x="418.16" y="128.00" width="8.2" height="5.3" fill="#cbcbcb"/><rect x="427.84" y="128.00" width="8.2" height="5.3" fill="#cbcbcb"/><rect x="437.52" y="128.00" width="8.2" height="5.3" fill="#56bfee"/><rect x="447.20" y="128.00" width="8.2" height="5.3" fill="#cbcbcb"/><rect x="456.88" y="128.00" width="8.2" height="5.3" fill="#cbcbcb"/><rect x="466.56" y="128.00" width="8.2" height="5.3" fill="#cbcbcb"/><rect x="476.24" y="128.00" width="8.2" height="5.3" fill="#cbcbcb"/><rect x="485.92" y="128.00" width="8.2" height="5.3" fill="#cbcbcb"/><rect x="495.60" y="128.00" width="8.2" height="5.3" fill="#cbcbcb"/><rect x="505.28" y="128.00" width="8.2" height="5.3" fill="#cbcbcb"/><rect x="60.00" y="133.78" width="8.2" height="5.3" fill="#cbcbcb"/><rect x="69.68" y="133.78" width="8.2" height="5.3" fill="#cbcbcb"/><rect x="79.36" y="133.78" width="8.2" height="5.3" fill="#cbcbcb"/><rect x="89.04" y="133.78" width="8.2" height="5.3" fill="#cbcbcb"/><rect x="98.72" y="133.78" width="8.2" height="5.3" fill="#cbcbcb"/><rect x="108.40" y="133.78" width="8.2" height="5.3" fill="#cbcbcb"/><rect x="118.08" y="133.78" width="8.2" height="5.3" fill="#cbcbcb"/><rect x="127.76" y="133.78" width="8.2" height="5.3" fill="#cbcbcb"/><rect x="137.44" y="133.78" width="8.2" height="5.3" fill="#cbcbcb"/><rect x="147.12" y="133.78" width="8.2" height="5.3" fill="#cbcbcb"/><rect x="156.80" y="133.78" width="8.2" height="5.3" fill="#56bfee"/><rect x="166.48" y="133.78" width="8.2" height="5.3" fill="#cbcbcb"/><rect x="176.16" y="133.78" width="8.2" height="5.3" fill="#cbcbcb"/><rect x="185.84" y="133.78" width="8.2" height="5.3" fill="#cbcbcb"/><rect x="195.52" y="133.78" width="8.2" height="5.3" fill="#cbcbcb"/><rect x="205.20" y="133.78" width="8.2" height="5.3" fill="#cbcbcb"/><rect x="214.88" y="133.78" width="8.2" height="5.3" fill="#cbcbcb"/><rect x="224.56" y="133.78" width="8.2" height="5.3" fill="#cbcbcb"/><rect x="234.24" y="133.78" width="8.2" height="5.3" fill="#cbcbcb"/><rect x="243.92" y="133.78" width="8.2" height="5.3" fill="#cbcbcb"/><rect x="253.60" y="133.78" width="8.2" height="5.3" fill="#cbcbcb"/><rect x="263.28" y="133.78" width="8.2" height="5.3" fill="#cbcbcb"/><rect x="272.96" y="133.78" width="8.2" height="5.3" fill="#cbcbcb"/><rect x="282.64" y="133.78" width="8.2" height="5.3" fill="#cbcbcb"/><rect x="292.32" y="133.78" width="8.2" height="5.3" fill="#cbcbcb"/><rect x="302.00" y="133.78" width="8.2" height="5.3" fill="#cbcbcb"/><rect x="311.68" y="133.78" width="8.2" height="5.3" fill="#cbcbcb"/><rect x="321.36" y="133.78" width="8.2" height="5.3" fill="#cbcbcb"/><rect x="331.04" y="133.78" width="8.2" height="5.3" fill="#cbcbcb"/><rect x="340.72" y="133.78" width="8.2" height="5.3" fill="#cbcbcb"/><rect x="350.40" y="133.78" width="8.2" height="5.3" fill="#cbcbcb"/><rect x="360.08" y="133.78" width="8.2" height="5.3" fill="#cbcbcb"/><rect x="369.76" y="133.78" width="8.2" height="5.3" fill="#cbcbcb"/><rect x="379.44" y="133.78" width="8.2" height="5.3" fill="#cbcbcb"/><rect x="389.12" y="133.78" width="8.2" height="5.3" fill="#cbcbcb"/><rect x="398.80" y="133.78" width="8.2" height="5.3" fill="#cbcbcb"/><rect x="408.48" y="133.78" width="8.2" height="5.3" fill="#cbcbcb"/><rect x="418.16" y="133.78" width="8.2" height="5.3" fill="#cbcbcb"/><rect x="427.84" y="133.78" width="8.2" height="5.3" fill="#cbcbcb"/><rect x="437.52" y="133.78" width="8.2" height="5.3" fill="#cbcbcb"/><rect x="447.20" y="133.78" width="8.2" height="5.3" fill="#cbcbcb"/><rect x="456.88" y="133.78" width="8.2" height="5.3" fill="#cbcbcb"/><rect x="466.56" y="133.78" width="8.2" height="5.3" fill="#cbcbcb"/><rect x="476.24" y="133.78" width="8.2" height="5.3" fill="#cbcbcb"/><rect x="485.92" y="133.78" width="8.2" height="5.3" fill="#cbcbcb"/><rect x="495.60" y="133.78" width="8.2" height="5.3" fill="#cbcbcb"/><rect x="505.28" y="133.78" width="8.2" height="5.3" fill="#cbcbcb"/><rect x="60.00" y="139.55" width="8.2" height="5.3" fill="#cbcbcb"/><rect x="69.68" y="139.55" width="8.2" height="5.3" fill="#cbcbcb"/><rect x="79.36" y="139.55" width="8.2" height="5.3" fill="#cbcbcb"/><rect x="89.04" y="139.55" width="8.2" height="5.3" fill="#cbcbcb"/><rect x="98.72" y="139.55" width="8.2" height="5.3" fill="#cbcbcb"/><rect x="108.40" y="139.55" width="8.2" height="5.3" fill="#cbcbcb"/><rect x="118.08" y="139.55" width="8.2" height="5.3" fill="#cbcbcb"/><rect x="127.76" y="139.55" width="8.2" height="5.3" fill="#cbcbcb"/><rect x="137.44" y="139.55" width="8.2" height="5.3" fill="#cbcbcb"/><rect x="147.12" y="139.55" width="8.2" height="5.3" fill="#cbcbcb"/><rect x="156.80" y="139.55" width="8.2" height="5.3" fill="#cbcbcb"/><rect x="166.48" y="139.55" width="8.2" height="5.3" fill="#cbcbcb"/><rect x="176.16" y="139.55" width="8.2" height="5.3" fill="#cbcbcb"/><rect x="185.84" y="139.55" width="8.2" height="5.3" fill="#cbcbcb"/><rect x="195.52" y="139.55" width="8.2" height="5.3" fill="#cbcbcb"/><rect x="205.20" y="139.55" width="8.2" height="5.3" fill="#cbcbcb"/><rect x="214.88" y="139.55" width="8.2" height="5.3" fill="#cbcbcb"/><rect x="224.56" y="139.55" width="8.2" height="5.3" fill="#cbcbcb"/><rect x="234.24" y="139.55" width="8.2" height="5.3" fill="#cbcbcb"/><rect x="243.92" y="139.55" width="8.2" height="5.3" fill="#cbcbcb"/><rect x="253.60" y="139.55" width="8.2" height="5.3" fill="#cbcbcb"/><rect x="263.28" y="139.55" width="8.2" height="5.3" fill="#cbcbcb"/><rect x="272.96" y="139.55" width="8.2" height="5.3" fill="#cbcbcb"/><rect x="282.64" y="139.55" width="8.2" height="5.3" fill="#cbcbcb"/><rect x="292.32" y="139.55" width="8.2" height="5.3" fill="#cbcbcb"/><rect x="302.00" y="139.55" width="8.2" height="5.3" fill="#cbcbcb"/><rect x="311.68" y="139.55" width="8.2" height="5.3" fill="#cbcbcb"/><rect x="321.36" y="139.55" width="8.2" height="5.3" fill="#cbcbcb"/><rect x="331.04" y="139.55" width="8.2" height="5.3" fill="#cbcbcb"/><rect x="340.72" y="139.55" width="8.2" height="5.3" fill="#56bfee"/><rect x="350.40" y="139.55" width="8.2" height="5.3" fill="#cbcbcb"/><rect x="360.08" y="139.55" width="8.2" height="5.3" fill="#cbcbcb"/><rect x="369.76" y="139.55" width="8.2" height="5.3" fill="#cbcbcb"/><rect x="379.44" y="139.55" width="8.2" height="5.3" fill="#cbcbcb"/><rect x="389.12" y="139.55" width="8.2" height="5.3" fill="#cbcbcb"/><rect x="398.80" y="139.55" width="8.2" height="5.3" fill="#cbcbcb"/><rect x="408.48" y="139.55" width="8.2" height="5.3" fill="#cbcbcb"/><rect x="418.16" y="139.55" width="8.2" height="5.3" fill="#cbcbcb"/><rect x="427.84" y="139.55" width="8.2" height="5.3" fill="#cbcbcb"/><rect x="437.52" y="139.55" width="8.2" height="5.3" fill="#cbcbcb"/><rect x="447.20" y="139.55" width="8.2" height="5.3" fill="#cbcbcb"/><rect x="456.88" y="139.55" width="8.2" height="5.3" fill="#cbcbcb"/><rect x="466.56" y="139.55" width="8.2" height="5.3" fill="#cbcbcb"/><rect x="476.24" y="139.55" width="8.2" height="5.3" fill="#cbcbcb"/><rect x="485.92" y="139.55" width="8.2" height="5.3" fill="#cbcbcb"/><rect x="495.60" y="139.55" width="8.2" height="5.3" fill="#cbcbcb"/><rect x="505.28" y="139.55" width="8.2" height="5.3" fill="#cbcbcb"/><rect x="60.00" y="145.32" width="8.2" height="5.3" fill="#cbcbcb"/><rect x="69.68" y="145.32" width="8.2" height="5.3" fill="#56bfee"/><rect x="79.36" y="145.32" width="8.2" height="5.3" fill="#cbcbcb"/><rect x="89.04" y="145.32" width="8.2" height="5.3" fill="#cbcbcb"/><rect x="98.72" y="145.32" width="8.2" height="5.3" fill="#cbcbcb"/><rect x="108.40" y="145.32" width="8.2" height="5.3" fill="#cbcbcb"/><rect x="118.08" y="145.32" width="8.2" height="5.3" fill="#cbcbcb"/><rect x="127.76" y="145.32" width="8.2" height="5.3" fill="#cbcbcb"/><rect x="137.44" y="145.32" width="8.2" height="5.3" fill="#cbcbcb"/><rect x="147.12" y="145.32" width="8.2" height="5.3" fill="#cbcbcb"/><rect x="156.80" y="145.32" width="8.2" height="5.3" fill="#cbcbcb"/><rect x="166.48" y="145.32" width="8.2" height="5.3" fill="#cbcbcb"/><rect x="176.16" y="145.32" width="8.2" height="5.3" fill="#cbcbcb"/><rect x="185.84" y="145.32" width="8.2" height="5.3" fill="#cbcbcb"/><rect x="195.52" y="145.32" width="8.2" height="5.3" fill="#cbcbcb"/><rect x="205.20" y="145.32" width="8.2" height="5.3" fill="#cbcbcb"/><rect x="214.88" y="145.32" width="8.2" height="5.3" fill="#cbcbcb"/><rect x="224.56" y="145.32" width="8.2" height="5.3" fill="#cbcbcb"/><rect x="234.24" y="145.32" width="8.2" height="5.3" fill="#cbcbcb"/><rect x="243.92" y="145.32" width="8.2" height="5.3" fill="#cbcbcb"/><rect x="253.60" y="145.32" width="8.2" height="5.3" fill="#cbcbcb"/><rect x="263.28" y="145.32" width="8.2" height="5.3" fill="#cbcbcb"/><rect x="272.96" y="145.32" width="8.2" height="5.3" fill="#cbcbcb"/><rect x="282.64" y="145.32" width="8.2" height="5.3" fill="#cbcbcb"/><rect x="292.32" y="145.32" width="8.2" height="5.3" fill="#cbcbcb"/><rect x="302.00" y="145.32" width="8.2" height="5.3" fill="#cbcbcb"/><rect x="311.68" y="145.32" width="8.2" height="5.3" fill="#cbcbcb"/><rect x="321.36" y="145.32" width="8.2" height="5.3" fill="#cbcbcb"/><rect x="331.04" y="145.32" width="8.2" height="5.3" fill="#cbcbcb"/><rect x="340.72" y="145.32" width="8.2" height="5.3" fill="#cbcbcb"/><rect x="350.40" y="145.32" width="8.2" height="5.3" fill="#cbcbcb"/><rect x="360.08" y="145.32" width="8.2" height="5.3" fill="#56bfee"/><rect x="369.76" y="145.32" width="8.2" height="5.3" fill="#cbcbcb"/><rect x="379.44" y="145.32" width="8.2" height="5.3" fill="#cbcbcb"/><rect x="389.12" y="145.32" width="8.2" height="5.3" fill="#cbcbcb"/><rect x="398.80" y="145.32" width="8.2" height="5.3" fill="#cbcbcb"/><rect x="408.48" y="145.32" width="8.2" height="5.3" fill="#cbcbcb"/><rect x="418.16" y="145.32" width="8.2" height="5.3" fill="#cbcbcb"/><rect x="427.84" y="145.32" width="8.2" height="5.3" fill="#cbcbcb"/><rect x="437.52" y="145.32" width="8.2" height="5.3" fill="#cbcbcb"/><rect x="447.20" y="145.32" width="8.2" height="5.3" fill="#cbcbcb"/><rect x="456.88" y="145.32" width="8.2" height="5.3" fill="#cbcbcb"/><rect x="466.56" y="145.32" width="8.2" height="5.3" fill="#cbcbcb"/><rect x="476.24" y="145.32" width="8.2" height="5.3" fill="#cbcbcb"/><rect x="485.92" y="145.32" width="8.2" height="5.3" fill="#cbcbcb"/><rect x="495.60" y="145.32" width="8.2" height="5.3" fill="#cbcbcb"/><rect x="505.28" y="145.32" width="8.2" height="5.3" fill="#cbcbcb"/><rect x="60.00" y="151.10" width="8.2" height="5.3" fill="#cbcbcb"/><rect x="69.68" y="151.10" width="8.2" height="5.3" fill="#cbcbcb"/><rect x="79.36" y="151.10" width="8.2" height="5.3" fill="#cbcbcb"/><rect x="89.04" y="151.10" width="8.2" height="5.3" fill="#cbcbcb"/><rect x="98.72" y="151.10" width="8.2" height="5.3" fill="#cbcbcb"/><rect x="108.40" y="151.10" width="8.2" height="5.3" fill="#cbcbcb"/><rect x="118.08" y="151.10" width="8.2" height="5.3" fill="#cbcbcb"/><rect x="127.76" y="151.10" width="8.2" height="5.3" fill="#cbcbcb"/><rect x="137.44" y="151.10" width="8.2" height="5.3" fill="#cbcbcb"/><rect x="147.12" y="151.10" width="8.2" height="5.3" fill="#cbcbcb"/><rect x="156.80" y="151.10" width="8.2" height="5.3" fill="#1470bb"/><rect x="166.48" y="151.10" width="8.2" height="5.3" fill="#cbcbcb"/><rect x="176.16" y="151.10" width="8.2" height="5.3" fill="#cbcbcb"/><rect x="185.84" y="151.10" width="8.2" height="5.3" fill="#cbcbcb"/><rect x="195.52" y="151.10" width="8.2" height="5.3" fill="#cbcbcb"/><rect x="205.20" y="151.10" width="8.2" height="5.3" fill="#56bfee"/><rect x="214.88" y="151.10" width="8.2" height="5.3" fill="#56bfee"/><rect x="224.56" y="151.10" width="8.2" height="5.3" fill="#cbcbcb"/><rect x="234.24" y="151.10" width="8.2" height="5.3" fill="#cbcbcb"/><rect x="243.92" y="151.10" width="8.2" height="5.3" fill="#cbcbcb"/><rect x="253.60" y="151.10" width="8.2" height="5.3" fill="#cbcbcb"/><rect x="263.28" y="151.10" width="8.2" height="5.3" fill="#cbcbcb"/><rect x="272.96" y="151.10" width="8.2" height="5.3" fill="#cbcbcb"/><rect x="282.64" y="151.10" width="8.2" height="5.3" fill="#cbcbcb"/><rect x="292.32" y="151.10" width="8.2" height="5.3" fill="#cbcbcb"/><rect x="302.00" y="151.10" width="8.2" height="5.3" fill="#cbcbcb"/><rect x="311.68" y="151.10" width="8.2" height="5.3" fill="#cbcbcb"/><rect x="321.36" y="151.10" width="8.2" height="5.3" fill="#cbcbcb"/><rect x="331.04" y="151.10" width="8.2" height="5.3" fill="#cbcbcb"/><rect x="340.72" y="151.10" width="8.2" height="5.3" fill="#cbcbcb"/><rect x="350.40" y="151.10" width="8.2" height="5.3" fill="#cbcbcb"/><rect x="360.08" y="151.10" width="8.2" height="5.3" fill="#cbcbcb"/><rect x="369.76" y="151.10" width="8.2" height="5.3" fill="#cbcbcb"/><rect x="379.44" y="151.10" width="8.2" height="5.3" fill="#cbcbcb"/><rect x="389.12" y="151.10" width="8.2" height="5.3" fill="#cbcbcb"/><rect x="398.80" y="151.10" width="8.2" height="5.3" fill="#cbcbcb"/><rect x="408.48" y="151.10" width="8.2" height="5.3" fill="#56bfee"/><rect x="418.16" y="151.10" width="8.2" height="5.3" fill="#cbcbcb"/><rect x="427.84" y="151.10" width="8.2" height="5.3" fill="#cbcbcb"/><rect x="437.52" y="151.10" width="8.2" height="5.3" fill="#cbcbcb"/><rect x="447.20" y="151.10" width="8.2" height="5.3" fill="#cbcbcb"/><rect x="456.88" y="151.10" width="8.2" height="5.3" fill="#cbcbcb"/><rect x="466.56" y="151.10" width="8.2" height="5.3" fill="#cbcbcb"/><rect x="476.24" y="151.10" width="8.2" height="5.3" fill="#cbcbcb"/><rect x="485.92" y="151.10" width="8.2" height="5.3" fill="#cbcbcb"/><rect x="495.60" y="151.10" width="8.2" height="5.3" fill="#cbcbcb"/><rect x="505.28" y="151.10" width="8.2" height="5.3" fill="#cbcbcb"/><rect x="60.00" y="156.88" width="8.2" height="5.3" fill="#cbcbcb"/><rect x="69.68" y="156.88" width="8.2" height="5.3" fill="#cbcbcb"/><rect x="79.36" y="156.88" width="8.2" height="5.3" fill="#cbcbcb"/><rect x="89.04" y="156.88" width="8.2" height="5.3" fill="#cbcbcb"/><rect x="98.72" y="156.88" width="8.2" height="5.3" fill="#cbcbcb"/><rect x="108.40" y="156.88" width="8.2" height="5.3" fill="#cbcbcb"/><rect x="118.08" y="156.88" width="8.2" height="5.3" fill="#cbcbcb"/><rect x="127.76" y="156.88" width="8.2" height="5.3" fill="#cbcbcb"/><rect x="137.44" y="156.88" width="8.2" height="5.3" fill="#cbcbcb"/><rect x="147.12" y="156.88" width="8.2" height="5.3" fill="#cbcbcb"/><rect x="156.80" y="156.88" width="8.2" height="5.3" fill="#cbcbcb"/><rect x="166.48" y="156.88" width="8.2" height="5.3" fill="#cbcbcb"/><rect x="176.16" y="156.88" width="8.2" height="5.3" fill="#cbcbcb"/><rect x="185.84" y="156.88" width="8.2" height="5.3" fill="#cbcbcb"/><rect x="195.52" y="156.88" width="8.2" height="5.3" fill="#cbcbcb"/><rect x="205.20" y="156.88" width="8.2" height="5.3" fill="#cbcbcb"/><rect x="214.88" y="156.88" width="8.2" height="5.3" fill="#cbcbcb"/><rect x="224.56" y="156.88" width="8.2" height="5.3" fill="#cbcbcb"/><rect x="234.24" y="156.88" width="8.2" height="5.3" fill="#cbcbcb"/><rect x="243.92" y="156.88" width="8.2" height="5.3" fill="#cbcbcb"/><rect x="253.60" y="156.88" width="8.2" height="5.3" fill="#cbcbcb"/><rect x="263.28" y="156.88" width="8.2" height="5.3" fill="#56bfee"/><rect x="272.96" y="156.88" width="8.2" height="5.3" fill="#cbcbcb"/><rect x="282.64" y="156.88" width="8.2" height="5.3" fill="#cbcbcb"/><rect x="292.32" y="156.88" width="8.2" height="5.3" fill="#cbcbcb"/><rect x="302.00" y="156.88" width="8.2" height="5.3" fill="#cbcbcb"/><rect x="311.68" y="156.88" width="8.2" height="5.3" fill="#cbcbcb"/><rect x="321.36" y="156.88" width="8.2" height="5.3" fill="#cbcbcb"/><rect x="331.04" y="156.88" width="8.2" height="5.3" fill="#cbcbcb"/><rect x="340.72" y="156.88" width="8.2" height="5.3" fill="#cbcbcb"/><rect x="350.40" y="156.88" width="8.2" height="5.3" fill="#cbcbcb"/><rect x="360.08" y="156.88" width="8.2" height="5.3" fill="#cbcbcb"/><rect x="369.76" y="156.88" width="8.2" height="5.3" fill="#cbcbcb"/><rect x="379.44" y="156.88" width="8.2" height="5.3" fill="#cbcbcb"/><rect x="389.12" y="156.88" width="8.2" height="5.3" fill="#cbcbcb"/><rect x="398.80" y="156.88" width="8.2" height="5.3" fill="#cbcbcb"/><rect x="408.48" y="156.88" width="8.2" height="5.3" fill="#cbcbcb"/><rect x="418.16" y="156.88" width="8.2" height="5.3" fill="#cbcbcb"/><rect x="427.84" y="156.88" width="8.2" height="5.3" fill="#cbcbcb"/><rect x="437.52" y="156.88" width="8.2" height="5.3" fill="#cbcbcb"/><rect x="447.20" y="156.88" width="8.2" height="5.3" fill="#cbcbcb"/><rect x="456.88" y="156.88" width="8.2" height="5.3" fill="#cbcbcb"/><rect x="466.56" y="156.88" width="8.2" height="5.3" fill="#cbcbcb"/><rect x="476.24" y="156.88" width="8.2" height="5.3" fill="#cbcbcb"/><rect x="485.92" y="156.88" width="8.2" height="5.3" fill="#cbcbcb"/><rect x="495.60" y="156.88" width="8.2" height="5.3" fill="#cbcbcb"/><rect x="505.28" y="156.88" width="8.2" height="5.3" fill="#cbcbcb"/><rect x="60.00" y="162.65" width="8.2" height="5.3" fill="#cbcbcb"/><rect x="69.68" y="162.65" width="8.2" height="5.3" fill="#cbcbcb"/><rect x="79.36" y="162.65" width="8.2" height="5.3" fill="#cbcbcb"/><rect x="89.04" y="162.65" width="8.2" height="5.3" fill="#56bfee"/><rect x="98.72" y="162.65" width="8.2" height="5.3" fill="#cbcbcb"/><rect x="108.40" y="162.65" width="8.2" height="5.3" fill="#cbcbcb"/><rect x="118.08" y="162.65" width="8.2" height="5.3" fill="#cbcbcb"/><rect x="127.76" y="162.65" width="8.2" height="5.3" fill="#cbcbcb"/><rect x="137.44" y="162.65" width="8.2" height="5.3" fill="#cbcbcb"/><rect x="147.12" y="162.65" width="8.2" height="5.3" fill="#cbcbcb"/><rect x="156.80" y="162.65" width="8.2" height="5.3" fill="#cbcbcb"/><rect x="166.48" y="162.65" width="8.2" height="5.3" fill="#cbcbcb"/><rect x="176.16" y="162.65" width="8.2" height="5.3" fill="#cbcbcb"/><rect x="185.84" y="162.65" width="8.2" height="5.3" fill="#cbcbcb"/><rect x="195.52" y="162.65" width="8.2" height="5.3" fill="#cbcbcb"/><rect x="205.20" y="162.65" width="8.2" height="5.3" fill="#56bfee"/><rect x="214.88" y="162.65" width="8.2" height="5.3" fill="#cbcbcb"/><rect x="224.56" y="162.65" width="8.2" height="5.3" fill="#cbcbcb"/><rect x="234.24" y="162.65" width="8.2" height="5.3" fill="#cbcbcb"/><rect x="243.92" y="162.65" width="8.2" height="5.3" fill="#cbcbcb"/><rect x="253.60" y="162.65" width="8.2" height="5.3" fill="#cbcbcb"/><rect x="263.28" y="162.65" width="8.2" height="5.3" fill="#cbcbcb"/><rect x="272.96" y="162.65" width="8.2" height="5.3" fill="#cbcbcb"/><rect x="282.64" y="162.65" width="8.2" height="5.3" fill="#cbcbcb"/><rect x="292.32" y="162.65" width="8.2" height="5.3" fill="#cbcbcb"/><rect x="302.00" y="162.65" width="8.2" height="5.3" fill="#cbcbcb"/><rect x="311.68" y="162.65" width="8.2" height="5.3" fill="#cbcbcb"/><rect x="321.36" y="162.65" width="8.2" height="5.3" fill="#cbcbcb"/><rect x="331.04" y="162.65" width="8.2" height="5.3" fill="#cbcbcb"/><rect x="340.72" y="162.65" width="8.2" height="5.3" fill="#cbcbcb"/><rect x="350.40" y="162.65" width="8.2" height="5.3" fill="#cbcbcb"/><rect x="360.08" y="162.65" width="8.2" height="5.3" fill="#cbcbcb"/><rect x="369.76" y="162.65" width="8.2" height="5.3" fill="#1470bb"/><rect x="379.44" y="162.65" width="8.2" height="5.3" fill="#cbcbcb"/><rect x="389.12" y="162.65" width="8.2" height="5.3" fill="#cbcbcb"/><rect x="398.80" y="162.65" width="8.2" height="5.3" fill="#cbcbcb"/><rect x="408.48" y="162.65" width="8.2" height="5.3" fill="#cbcbcb"/><rect x="418.16" y="162.65" width="8.2" height="5.3" fill="#cbcbcb"/><rect x="427.84" y="162.65" width="8.2" height="5.3" fill="#cbcbcb"/><rect x="437.52" y="162.65" width="8.2" height="5.3" fill="#cbcbcb"/><rect x="447.20" y="162.65" width="8.2" height="5.3" fill="#1470bb"/><rect x="456.88" y="162.65" width="8.2" height="5.3" fill="#cbcbcb"/><rect x="466.56" y="162.65" width="8.2" height="5.3" fill="#cbcbcb"/><rect x="476.24" y="162.65" width="8.2" height="5.3" fill="#cbcbcb"/><rect x="485.92" y="162.65" width="8.2" height="5.3" fill="#cbcbcb"/><rect x="495.60" y="162.65" width="8.2" height="5.3" fill="#cbcbcb"/><rect x="505.28" y="162.65" width="8.2" height="5.3" fill="#cbcbcb"/><rect x="60.00" y="168.43" width="8.2" height="5.3" fill="#cbcbcb"/><rect x="69.68" y="168.43" width="8.2" height="5.3" fill="#1470bb"/><rect x="79.36" y="168.43" width="8.2" height="5.3" fill="#cbcbcb"/><rect x="89.04" y="168.43" width="8.2" height="5.3" fill="#cbcbcb"/><rect x="98.72" y="168.43" width="8.2" height="5.3" fill="#cbcbcb"/><rect x="108.40" y="168.43" width="8.2" height="5.3" fill="#cbcbcb"/><rect x="118.08" y="168.43" width="8.2" height="5.3" fill="#cbcbcb"/><rect x="127.76" y="168.43" width="8.2" height="5.3" fill="#56bfee"/><rect x="137.44" y="168.43" width="8.2" height="5.3" fill="#1470bb"/><rect x="147.12" y="168.43" width="8.2" height="5.3" fill="#cbcbcb"/><rect x="156.80" y="168.43" width="8.2" height="5.3" fill="#1470bb"/><rect x="166.48" y="168.43" width="8.2" height="5.3" fill="#56bfee"/><rect x="176.16" y="168.43" width="8.2" height="5.3" fill="#cbcbcb"/><rect x="185.84" y="168.43" width="8.2" height="5.3" fill="#cbcbcb"/><rect x="195.52" y="168.43" width="8.2" height="5.3" fill="#cbcbcb"/><rect x="205.20" y="168.43" width="8.2" height="5.3" fill="#cbcbcb"/><rect x="214.88" y="168.43" width="8.2" height="5.3" fill="#56bfee"/><rect x="224.56" y="168.43" width="8.2" height="5.3" fill="#56bfee"/><rect x="234.24" y="168.43" width="8.2" height="5.3" fill="#56bfee"/><rect x="243.92" y="168.43" width="8.2" height="5.3" fill="#cbcbcb"/><rect x="253.60" y="168.43" width="8.2" height="5.3" fill="#cbcbcb"/><rect x="263.28" y="168.43" width="8.2" height="5.3" fill="#1470bb"/><rect x="272.96" y="168.43" width="8.2" height="5.3" fill="#56bfee"/><rect x="282.64" y="168.43" width="8.2" height="5.3" fill="#cbcbcb"/><rect x="292.32" y="168.43" width="8.2" height="5.3" fill="#cbcbcb"/><rect x="302.00" y="168.43" width="8.2" height="5.3" fill="#cbcbcb"/><rect x="311.68" y="168.43" width="8.2" height="5.3" fill="#cbcbcb"/><rect x="321.36" y="168.43" width="8.2" height="5.3" fill="#56bfee"/><rect x="331.04" y="168.43" width="8.2" height="5.3" fill="#cbcbcb"/><rect x="340.72" y="168.43" width="8.2" height="5.3" fill="#cbcbcb"/><rect x="350.40" y="168.43" width="8.2" height="5.3" fill="#cbcbcb"/><rect x="360.08" y="168.43" width="8.2" height="5.3" fill="#cbcbcb"/><rect x="369.76" y="168.43" width="8.2" height="5.3" fill="#cbcbcb"/><rect x="379.44" y="168.43" width="8.2" height="5.3" fill="#cbcbcb"/><rect x="389.12" y="168.43" width="8.2" height="5.3" fill="#cbcbcb"/><rect x="398.80" y="168.43" width="8.2" height="5.3" fill="#cbcbcb"/><rect x="408.48" y="168.43" width="8.2" height="5.3" fill="#cbcbcb"/><rect x="418.16" y="168.43" width="8.2" height="5.3" fill="#cbcbcb"/><rect x="427.84" y="168.43" width="8.2" height="5.3" fill="#cbcbcb"/><rect x="437.52" y="168.43" width="8.2" height="5.3" fill="#56bfee"/><rect x="447.20" y="168.43" width="8.2" height="5.3" fill="#cbcbcb"/><rect x="456.88" y="168.43" width="8.2" height="5.3" fill="#56bfee"/><rect x="466.56" y="168.43" width="8.2" height="5.3" fill="#cbcbcb"/><rect x="476.24" y="168.43" width="8.2" height="5.3" fill="#cbcbcb"/><rect x="485.92" y="168.43" width="8.2" height="5.3" fill="#cbcbcb"/><rect x="495.60" y="168.43" width="8.2" height="5.3" fill="#cbcbcb"/><rect x="505.28" y="168.43" width="8.2" height="5.3" fill="#cbcbcb"/><rect x="60.00" y="174.20" width="8.2" height="5.3" fill="#cbcbcb"/><rect x="69.68" y="174.20" width="8.2" height="5.3" fill="#cbcbcb"/><rect x="79.36" y="174.20" width="8.2" height="5.3" fill="#cbcbcb"/><rect x="89.04" y="174.20" width="8.2" height="5.3" fill="#cbcbcb"/><rect x="98.72" y="174.20" width="8.2" height="5.3" fill="#cbcbcb"/><rect x="108.40" y="174.20" width="8.2" height="5.3" fill="#cbcbcb"/><rect x="118.08" y="174.20" width="8.2" height="5.3" fill="#cbcbcb"/><rect x="127.76" y="174.20" width="8.2" height="5.3" fill="#cbcbcb"/><rect x="137.44" y="174.20" width="8.2" height="5.3" fill="#56bfee"/><rect x="147.12" y="174.20" width="8.2" height="5.3" fill="#cbcbcb"/><rect x="156.80" y="174.20" width="8.2" height="5.3" fill="#cbcbcb"/><rect x="166.48" y="174.20" width="8.2" height="5.3" fill="#cbcbcb"/><rect x="176.16" y="174.20" width="8.2" height="5.3" fill="#cbcbcb"/><rect x="185.84" y="174.20" width="8.2" height="5.3" fill="#cbcbcb"/><rect x="195.52" y="174.20" width="8.2" height="5.3" fill="#cbcbcb"/><rect x="205.20" y="174.20" width="8.2" height="5.3" fill="#cbcbcb"/><rect x="214.88" y="174.20" width="8.2" height="5.3" fill="#cbcbcb"/><rect x="224.56" y="174.20" width="8.2" height="5.3" fill="#cbcbcb"/><rect x="234.24" y="174.20" width="8.2" height="5.3" fill="#cbcbcb"/><rect x="243.92" y="174.20" width="8.2" height="5.3" fill="#cbcbcb"/><rect x="253.60" y="174.20" width="8.2" height="5.3" fill="#cbcbcb"/><rect x="263.28" y="174.20" width="8.2" height="5.3" fill="#cbcbcb"/><rect x="272.96" y="174.20" width="8.2" height="5.3" fill="#cbcbcb"/><rect x="282.64" y="174.20" width="8.2" height="5.3" fill="#cbcbcb"/><rect x="292.32" y="174.20" width="8.2" height="5.3" fill="#cbcbcb"/><rect x="302.00" y="174.20" width="8.2" height="5.3" fill="#cbcbcb"/><rect x="311.68" y="174.20" width="8.2" height="5.3" fill="#cbcbcb"/><rect x="321.36" y="174.20" width="8.2" height="5.3" fill="#cbcbcb"/><rect x="331.04" y="174.20" width="8.2" height="5.3" fill="#cbcbcb"/><rect x="340.72" y="174.20" width="8.2" height="5.3" fill="#cbcbcb"/><rect x="350.40" y="174.20" width="8.2" height="5.3" fill="#cbcbcb"/><rect x="360.08" y="174.20" width="8.2" height="5.3" fill="#cbcbcb"/><rect x="369.76" y="174.20" width="8.2" height="5.3" fill="#cbcbcb"/><rect x="379.44" y="174.20" width="8.2" height="5.3" fill="#cbcbcb"/><rect x="389.12" y="174.20" width="8.2" height="5.3" fill="#cbcbcb"/><rect x="398.80" y="174.20" width="8.2" height="5.3" fill="#cbcbcb"/><rect x="408.48" y="174.20" width="8.2" height="5.3" fill="#cbcbcb"/><rect x="418.16" y="174.20" width="8.2" height="5.3" fill="#cbcbcb"/><rect x="427.84" y="174.20" width="8.2" height="5.3" fill="#cbcbcb"/><rect x="437.52" y="174.20" width="8.2" height="5.3" fill="#cbcbcb"/><rect x="447.20" y="174.20" width="8.2" height="5.3" fill="#cbcbcb"/><rect x="456.88" y="174.20" width="8.2" height="5.3" fill="#cbcbcb"/><rect x="466.56" y="174.20" width="8.2" height="5.3" fill="#56bfee"/><rect x="476.24" y="174.20" width="8.2" height="5.3" fill="#cbcbcb"/><rect x="485.92" y="174.20" width="8.2" height="5.3" fill="#cbcbcb"/><rect x="495.60" y="174.20" width="8.2" height="5.3" fill="#cbcbcb"/><rect x="505.28" y="174.20" width="8.2" height="5.3" fill="#cbcbcb"/><rect x="60.00" y="179.98" width="8.2" height="5.3" fill="#cbcbcb"/><rect x="69.68" y="179.98" width="8.2" height="5.3" fill="#cbcbcb"/><rect x="79.36" y="179.98" width="8.2" height="5.3" fill="#cbcbcb"/><rect x="89.04" y="179.98" width="8.2" height="5.3" fill="#cbcbcb"/><rect x="98.72" y="179.98" width="8.2" height="5.3" fill="#cbcbcb"/><rect x="108.40" y="179.98" width="8.2" height="5.3" fill="#56bfee"/><rect x="118.08" y="179.98" width="8.2" height="5.3" fill="#cbcbcb"/><rect x="127.76" y="179.98" width="8.2" height="5.3" fill="#cbcbcb"/><rect x="137.44" y="179.98" width="8.2" height="5.3" fill="#cbcbcb"/><rect x="147.12" y="179.98" width="8.2" height="5.3" fill="#cbcbcb"/><rect x="156.80" y="179.98" width="8.2" height="5.3" fill="#cbcbcb"/><rect x="166.48" y="179.98" width="8.2" height="5.3" fill="#cbcbcb"/><rect x="176.16" y="179.98" width="8.2" height="5.3" fill="#cbcbcb"/><rect x="185.84" y="179.98" width="8.2" height="5.3" fill="#cbcbcb"/><rect x="195.52" y="179.98" width="8.2" height="5.3" fill="#cbcbcb"/><rect x="205.20" y="179.98" width="8.2" height="5.3" fill="#cbcbcb"/><rect x="214.88" y="179.98" width="8.2" height="5.3" fill="#cbcbcb"/><rect x="224.56" y="179.98" width="8.2" height="5.3" fill="#cbcbcb"/><rect x="234.24" y="179.98" width="8.2" height="5.3" fill="#cbcbcb"/><rect x="243.92" y="179.98" width="8.2" height="5.3" fill="#cbcbcb"/><rect x="253.60" y="179.98" width="8.2" height="5.3" fill="#cbcbcb"/><rect x="263.28" y="179.98" width="8.2" height="5.3" fill="#cbcbcb"/><rect x="272.96" y="179.98" width="8.2" height="5.3" fill="#cbcbcb"/><rect x="282.64" y="179.98" width="8.2" height="5.3" fill="#cbcbcb"/><rect x="292.32" y="179.98" width="8.2" height="5.3" fill="#cbcbcb"/><rect x="302.00" y="179.98" width="8.2" height="5.3" fill="#cbcbcb"/><rect x="311.68" y="179.98" width="8.2" height="5.3" fill="#cbcbcb"/><rect x="321.36" y="179.98" width="8.2" height="5.3" fill="#cbcbcb"/><rect x="331.04" y="179.98" width="8.2" height="5.3" fill="#cbcbcb"/><rect x="340.72" y="179.98" width="8.2" height="5.3" fill="#cbcbcb"/><rect x="350.40" y="179.98" width="8.2" height="5.3" fill="#cbcbcb"/><rect x="360.08" y="179.98" width="8.2" height="5.3" fill="#cbcbcb"/><rect x="369.76" y="179.98" width="8.2" height="5.3" fill="#cbcbcb"/><rect x="379.44" y="179.98" width="8.2" height="5.3" fill="#cbcbcb"/><rect x="389.12" y="179.98" width="8.2" height="5.3" fill="#cbcbcb"/><rect x="398.80" y="179.98" width="8.2" height="5.3" fill="#cbcbcb"/><rect x="408.48" y="179.98" width="8.2" height="5.3" fill="#cbcbcb"/><rect x="418.16" y="179.98" width="8.2" height="5.3" fill="#cbcbcb"/><rect x="427.84" y="179.98" width="8.2" height="5.3" fill="#cbcbcb"/><rect x="437.52" y="179.98" width="8.2" height="5.3" fill="#cbcbcb"/><rect x="447.20" y="179.98" width="8.2" height="5.3" fill="#cbcbcb"/><rect x="456.88" y="179.98" width="8.2" height="5.3" fill="#cbcbcb"/><rect x="466.56" y="179.98" width="8.2" height="5.3" fill="#cbcbcb"/><rect x="476.24" y="179.98" width="8.2" height="5.3" fill="#cbcbcb"/><rect x="485.92" y="179.98" width="8.2" height="5.3" fill="#cbcbcb"/><rect x="495.60" y="179.98" width="8.2" height="5.3" fill="#cbcbcb"/><rect x="505.28" y="179.98" width="8.2" height="5.3" fill="#cbcbcb"/><rect x="60.00" y="185.75" width="8.2" height="5.3" fill="#cbcbcb"/><rect x="69.68" y="185.75" width="8.2" height="5.3" fill="#cbcbcb"/><rect x="79.36" y="185.75" width="8.2" height="5.3" fill="#56bfee"/><rect x="89.04" y="185.75" width="8.2" height="5.3" fill="#cbcbcb"/><rect x="98.72" y="185.75" width="8.2" height="5.3" fill="#cbcbcb"/><rect x="108.40" y="185.75" width="8.2" height="5.3" fill="#cbcbcb"/><rect x="118.08" y="185.75" width="8.2" height="5.3" fill="#cbcbcb"/><rect x="127.76" y="185.75" width="8.2" height="5.3" fill="#cbcbcb"/><rect x="137.44" y="185.75" width="8.2" height="5.3" fill="#56bfee"/><rect x="147.12" y="185.75" width="8.2" height="5.3" fill="#cbcbcb"/><rect x="156.80" y="185.75" width="8.2" height="5.3" fill="#cbcbcb"/><rect x="166.48" y="185.75" width="8.2" height="5.3" fill="#cbcbcb"/><rect x="176.16" y="185.75" width="8.2" height="5.3" fill="#cbcbcb"/><rect x="185.84" y="185.75" width="8.2" height="5.3" fill="#cbcbcb"/><rect x="195.52" y="185.75" width="8.2" height="5.3" fill="#56bfee"/><rect x="205.20" y="185.75" width="8.2" height="5.3" fill="#cbcbcb"/><rect x="214.88" y="185.75" width="8.2" height="5.3" fill="#cbcbcb"/><rect x="224.56" y="185.75" width="8.2" height="5.3" fill="#cbcbcb"/><rect x="234.24" y="185.75" width="8.2" height="5.3" fill="#cbcbcb"/><rect x="243.92" y="185.75" width="8.2" height="5.3" fill="#cbcbcb"/><rect x="253.60" y="185.75" width="8.2" height="5.3" fill="#cbcbcb"/><rect x="263.28" y="185.75" width="8.2" height="5.3" fill="#cbcbcb"/><rect x="272.96" y="185.75" width="8.2" height="5.3" fill="#cbcbcb"/><rect x="282.64" y="185.75" width="8.2" height="5.3" fill="#cbcbcb"/><rect x="292.32" y="185.75" width="8.2" height="5.3" fill="#cbcbcb"/><rect x="302.00" y="185.75" width="8.2" height="5.3" fill="#cbcbcb"/><rect x="311.68" y="185.75" width="8.2" height="5.3" fill="#cbcbcb"/><rect x="321.36" y="185.75" width="8.2" height="5.3" fill="#cbcbcb"/><rect x="331.04" y="185.75" width="8.2" height="5.3" fill="#cbcbcb"/><rect x="340.72" y="185.75" width="8.2" height="5.3" fill="#cbcbcb"/><rect x="350.40" y="185.75" width="8.2" height="5.3" fill="#cbcbcb"/><rect x="360.08" y="185.75" width="8.2" height="5.3" fill="#cbcbcb"/><rect x="369.76" y="185.75" width="8.2" height="5.3" fill="#cbcbcb"/><rect x="379.44" y="185.75" width="8.2" height="5.3" fill="#cbcbcb"/><rect x="389.12" y="185.75" width="8.2" height="5.3" fill="#cbcbcb"/><rect x="398.80" y="185.75" width="8.2" height="5.3" fill="#cbcbcb"/><rect x="408.48" y="185.75" width="8.2" height="5.3" fill="#cbcbcb"/><rect x="418.16" y="185.75" width="8.2" height="5.3" fill="#cbcbcb"/><rect x="427.84" y="185.75" width="8.2" height="5.3" fill="#cbcbcb"/><rect x="437.52" y="185.75" width="8.2" height="5.3" fill="#cbcbcb"/><rect x="447.20" y="185.75" width="8.2" height="5.3" fill="#56bfee"/><rect x="456.88" y="185.75" width="8.2" height="5.3" fill="#cbcbcb"/><rect x="466.56" y="185.75" width="8.2" height="5.3" fill="#56bfee"/><rect x="476.24" y="185.75" width="8.2" height="5.3" fill="#cbcbcb"/><rect x="485.92" y="185.75" width="8.2" height="5.3" fill="#cbcbcb"/><rect x="495.60" y="185.75" width="8.2" height="5.3" fill="#cbcbcb"/><rect x="505.28" y="185.75" width="8.2" height="5.3" fill="#cbcbcb"/><rect x="60.00" y="191.53" width="8.2" height="5.3" fill="#1470bb"/><rect x="69.68" y="191.53" width="8.2" height="5.3" fill="#cbcbcb"/><rect x="79.36" y="191.53" width="8.2" height="5.3" fill="#cbcbcb"/><rect x="89.04" y="191.53" width="8.2" height="5.3" fill="#56bfee"/><rect x="98.72" y="191.53" width="8.2" height="5.3" fill="#cbcbcb"/><rect x="108.40" y="191.53" width="8.2" height="5.3" fill="#cbcbcb"/><rect x="118.08" y="191.53" width="8.2" height="5.3" fill="#cbcbcb"/><rect x="127.76" y="191.53" width="8.2" height="5.3" fill="#cbcbcb"/><rect x="137.44" y="191.53" width="8.2" height="5.3" fill="#cbcbcb"/><rect x="147.12" y="191.53" width="8.2" height="5.3" fill="#cbcbcb"/><rect x="156.80" y="191.53" width="8.2" height="5.3" fill="#cbcbcb"/><rect x="166.48" y="191.53" width="8.2" height="5.3" fill="#cbcbcb"/><rect x="176.16" y="191.53" width="8.2" height="5.3" fill="#cbcbcb"/><rect x="185.84" y="191.53" width="8.2" height="5.3" fill="#cbcbcb"/><rect x="195.52" y="191.53" width="8.2" height="5.3" fill="#cbcbcb"/><rect x="205.20" y="191.53" width="8.2" height="5.3" fill="#cbcbcb"/><rect x="214.88" y="191.53" width="8.2" height="5.3" fill="#56bfee"/><rect x="224.56" y="191.53" width="8.2" height="5.3" fill="#cbcbcb"/><rect x="234.24" y="191.53" width="8.2" height="5.3" fill="#cbcbcb"/><rect x="243.92" y="191.53" width="8.2" height="5.3" fill="#56bfee"/><rect x="253.60" y="191.53" width="8.2" height="5.3" fill="#cbcbcb"/><rect x="263.28" y="191.53" width="8.2" height="5.3" fill="#cbcbcb"/><rect x="272.96" y="191.53" width="8.2" height="5.3" fill="#cbcbcb"/><rect x="282.64" y="191.53" width="8.2" height="5.3" fill="#56bfee"/><rect x="292.32" y="191.53" width="8.2" height="5.3" fill="#cbcbcb"/><rect x="302.00" y="191.53" width="8.2" height="5.3" fill="#cbcbcb"/><rect x="311.68" y="191.53" width="8.2" height="5.3" fill="#cbcbcb"/><rect x="321.36" y="191.53" width="8.2" height="5.3" fill="#cbcbcb"/><rect x="331.04" y="191.53" width="8.2" height="5.3" fill="#cbcbcb"/><rect x="340.72" y="191.53" width="8.2" height="5.3" fill="#cbcbcb"/><rect x="350.40" y="191.53" width="8.2" height="5.3" fill="#cbcbcb"/><rect x="360.08" y="191.53" width="8.2" height="5.3" fill="#56bfee"/><rect x="369.76" y="191.53" width="8.2" height="5.3" fill="#cbcbcb"/><rect x="379.44" y="191.53" width="8.2" height="5.3" fill="#cbcbcb"/><rect x="389.12" y="191.53" width="8.2" height="5.3" fill="#cbcbcb"/><rect x="398.80" y="191.53" width="8.2" height="5.3" fill="#cbcbcb"/><rect x="408.48" y="191.53" width="8.2" height="5.3" fill="#cbcbcb"/><rect x="418.16" y="191.53" width="8.2" height="5.3" fill="#56bfee"/><rect x="427.84" y="191.53" width="8.2" height="5.3" fill="#cbcbcb"/><rect x="437.52" y="191.53" width="8.2" height="5.3" fill="#cbcbcb"/><rect x="447.20" y="191.53" width="8.2" height="5.3" fill="#cbcbcb"/><rect x="456.88" y="191.53" width="8.2" height="5.3" fill="#cbcbcb"/><rect x="466.56" y="191.53" width="8.2" height="5.3" fill="#cbcbcb"/><rect x="476.24" y="191.53" width="8.2" height="5.3" fill="#56bfee"/><rect x="485.92" y="191.53" width="8.2" height="5.3" fill="#cbcbcb"/><rect x="495.60" y="191.53" width="8.2" height="5.3" fill="#cbcbcb"/><rect x="505.28" y="191.53" width="8.2" height="5.3" fill="#cbcbcb"/><rect x="60.00" y="197.30" width="8.2" height="5.3" fill="#56bfee"/><rect x="69.68" y="197.30" width="8.2" height="5.3" fill="#cbcbcb"/><rect x="79.36" y="197.30" width="8.2" height="5.3" fill="#cbcbcb"/><rect x="89.04" y="197.30" width="8.2" height="5.3" fill="#cbcbcb"/><rect x="98.72" y="197.30" width="8.2" height="5.3" fill="#cbcbcb"/><rect x="108.40" y="197.30" width="8.2" height="5.3" fill="#cbcbcb"/><rect x="118.08" y="197.30" width="8.2" height="5.3" fill="#cbcbcb"/><rect x="127.76" y="197.30" width="8.2" height="5.3" fill="#cbcbcb"/><rect x="137.44" y="197.30" width="8.2" height="5.3" fill="#cbcbcb"/><rect x="147.12" y="197.30" width="8.2" height="5.3" fill="#cbcbcb"/><rect x="156.80" y="197.30" width="8.2" height="5.3" fill="#cbcbcb"/><rect x="166.48" y="197.30" width="8.2" height="5.3" fill="#cbcbcb"/><rect x="176.16" y="197.30" width="8.2" height="5.3" fill="#cbcbcb"/><rect x="185.84" y="197.30" width="8.2" height="5.3" fill="#cbcbcb"/><rect x="195.52" y="197.30" width="8.2" height="5.3" fill="#cbcbcb"/><rect x="205.20" y="197.30" width="8.2" height="5.3" fill="#cbcbcb"/><rect x="214.88" y="197.30" width="8.2" height="5.3" fill="#cbcbcb"/><rect x="224.56" y="197.30" width="8.2" height="5.3" fill="#cbcbcb"/><rect x="234.24" y="197.30" width="8.2" height="5.3" fill="#cbcbcb"/><rect x="243.92" y="197.30" width="8.2" height="5.3" fill="#cbcbcb"/><rect x="253.60" y="197.30" width="8.2" height="5.3" fill="#cbcbcb"/><rect x="263.28" y="197.30" width="8.2" height="5.3" fill="#cbcbcb"/><rect x="272.96" y="197.30" width="8.2" height="5.3" fill="#cbcbcb"/><rect x="282.64" y="197.30" width="8.2" height="5.3" fill="#cbcbcb"/><rect x="292.32" y="197.30" width="8.2" height="5.3" fill="#56bfee"/><rect x="302.00" y="197.30" width="8.2" height="5.3" fill="#56bfee"/><rect x="311.68" y="197.30" width="8.2" height="5.3" fill="#cbcbcb"/><rect x="321.36" y="197.30" width="8.2" height="5.3" fill="#56bfee"/><rect x="331.04" y="197.30" width="8.2" height="5.3" fill="#cbcbcb"/><rect x="340.72" y="197.30" width="8.2" height="5.3" fill="#cbcbcb"/><rect x="350.40" y="197.30" width="8.2" height="5.3" fill="#cbcbcb"/><rect x="360.08" y="197.30" width="8.2" height="5.3" fill="#cbcbcb"/><rect x="369.76" y="197.30" width="8.2" height="5.3" fill="#cbcbcb"/><rect x="379.44" y="197.30" width="8.2" height="5.3" fill="#cbcbcb"/><rect x="389.12" y="197.30" width="8.2" height="5.3" fill="#cbcbcb"/><rect x="398.80" y="197.30" width="8.2" height="5.3" fill="#cbcbcb"/><rect x="408.48" y="197.30" width="8.2" height="5.3" fill="#cbcbcb"/><rect x="418.16" y="197.30" width="8.2" height="5.3" fill="#cbcbcb"/><rect x="427.84" y="197.30" width="8.2" height="5.3" fill="#cbcbcb"/><rect x="437.52" y="197.30" width="8.2" height="5.3" fill="#cbcbcb"/><rect x="447.20" y="197.30" width="8.2" height="5.3" fill="#1470bb"/><rect x="456.88" y="197.30" width="8.2" height="5.3" fill="#cbcbcb"/><rect x="466.56" y="197.30" width="8.2" height="5.3" fill="#56bfee"/><rect x="476.24" y="197.30" width="8.2" height="5.3" fill="#cbcbcb"/><rect x="485.92" y="197.30" width="8.2" height="5.3" fill="#cbcbcb"/><rect x="495.60" y="197.30" width="8.2" height="5.3" fill="#cbcbcb"/><rect x="505.28" y="197.30" width="8.2" height="5.3" fill="#cbcbcb"/><rect x="60.00" y="203.07" width="8.2" height="5.3" fill="#cbcbcb"/><rect x="69.68" y="203.07" width="8.2" height="5.3" fill="#cbcbcb"/><rect x="79.36" y="203.07" width="8.2" height="5.3" fill="#cbcbcb"/><rect x="89.04" y="203.07" width="8.2" height="5.3" fill="#cbcbcb"/><rect x="98.72" y="203.07" width="8.2" height="5.3" fill="#cbcbcb"/><rect x="108.40" y="203.07" width="8.2" height="5.3" fill="#cbcbcb"/><rect x="118.08" y="203.07" width="8.2" height="5.3" fill="#56bfee"/><rect x="127.76" y="203.07" width="8.2" height="5.3" fill="#cbcbcb"/><rect x="137.44" y="203.07" width="8.2" height="5.3" fill="#cbcbcb"/><rect x="147.12" y="203.07" width="8.2" height="5.3" fill="#cbcbcb"/><rect x="156.80" y="203.07" width="8.2" height="5.3" fill="#cbcbcb"/><rect x="166.48" y="203.07" width="8.2" height="5.3" fill="#cbcbcb"/><rect x="176.16" y="203.07" width="8.2" height="5.3" fill="#cbcbcb"/><rect x="185.84" y="203.07" width="8.2" height="5.3" fill="#cbcbcb"/><rect x="195.52" y="203.07" width="8.2" height="5.3" fill="#cbcbcb"/><rect x="205.20" y="203.07" width="8.2" height="5.3" fill="#cbcbcb"/><rect x="214.88" y="203.07" width="8.2" height="5.3" fill="#cbcbcb"/><rect x="224.56" y="203.07" width="8.2" height="5.3" fill="#cbcbcb"/><rect x="234.24" y="203.07" width="8.2" height="5.3" fill="#cbcbcb"/><rect x="243.92" y="203.07" width="8.2" height="5.3" fill="#cbcbcb"/><rect x="253.60" y="203.07" width="8.2" height="5.3" fill="#cbcbcb"/><rect x="263.28" y="203.07" width="8.2" height="5.3" fill="#cbcbcb"/><rect x="272.96" y="203.07" width="8.2" height="5.3" fill="#cbcbcb"/><rect x="282.64" y="203.07" width="8.2" height="5.3" fill="#cbcbcb"/><rect x="292.32" y="203.07" width="8.2" height="5.3" fill="#cbcbcb"/><rect x="302.00" y="203.07" width="8.2" height="5.3" fill="#cbcbcb"/><rect x="311.68" y="203.07" width="8.2" height="5.3" fill="#cbcbcb"/><rect x="321.36" y="203.07" width="8.2" height="5.3" fill="#cbcbcb"/><rect x="331.04" y="203.07" width="8.2" height="5.3" fill="#cbcbcb"/><rect x="340.72" y="203.07" width="8.2" height="5.3" fill="#cbcbcb"/><rect x="350.40" y="203.07" width="8.2" height="5.3" fill="#cbcbcb"/><rect x="360.08" y="203.07" width="8.2" height="5.3" fill="#cbcbcb"/><rect x="369.76" y="203.07" width="8.2" height="5.3" fill="#cbcbcb"/><rect x="379.44" y="203.07" width="8.2" height="5.3" fill="#cbcbcb"/><rect x="389.12" y="203.07" width="8.2" height="5.3" fill="#cbcbcb"/><rect x="398.80" y="203.07" width="8.2" height="5.3" fill="#cbcbcb"/><rect x="408.48" y="203.07" width="8.2" height="5.3" fill="#cbcbcb"/><rect x="418.16" y="203.07" width="8.2" height="5.3" fill="#cbcbcb"/><rect x="427.84" y="203.07" width="8.2" height="5.3" fill="#cbcbcb"/><rect x="437.52" y="203.07" width="8.2" height="5.3" fill="#cbcbcb"/><rect x="447.20" y="203.07" width="8.2" height="5.3" fill="#cbcbcb"/><rect x="456.88" y="203.07" width="8.2" height="5.3" fill="#cbcbcb"/><rect x="466.56" y="203.07" width="8.2" height="5.3" fill="#cbcbcb"/><rect x="476.24" y="203.07" width="8.2" height="5.3" fill="#cbcbcb"/><rect x="485.92" y="203.07" width="8.2" height="5.3" fill="#cbcbcb"/><rect x="495.60" y="203.07" width="8.2" height="5.3" fill="#cbcbcb"/><rect x="505.28" y="203.07" width="8.2" height="5.3" fill="#cbcbcb"/><rect x="60.00" y="208.85" width="8.2" height="5.3" fill="#cbcbcb"/><rect x="69.68" y="208.85" width="8.2" height="5.3" fill="#cbcbcb"/><rect x="79.36" y="208.85" width="8.2" height="5.3" fill="#cbcbcb"/><rect x="89.04" y="208.85" width="8.2" height="5.3" fill="#cbcbcb"/><rect x="98.72" y="208.85" width="8.2" height="5.3" fill="#cbcbcb"/><rect x="108.40" y="208.85" width="8.2" height="5.3" fill="#cbcbcb"/><rect x="118.08" y="208.85" width="8.2" height="5.3" fill="#cbcbcb"/><rect x="127.76" y="208.85" width="8.2" height="5.3" fill="#cbcbcb"/><rect x="137.44" y="208.85" width="8.2" height="5.3" fill="#cbcbcb"/><rect x="147.12" y="208.85" width="8.2" height="5.3" fill="#cbcbcb"/><rect x="156.80" y="208.85" width="8.2" height="5.3" fill="#cbcbcb"/><rect x="166.48" y="208.85" width="8.2" height="5.3" fill="#cbcbcb"/><rect x="176.16" y="208.85" width="8.2" height="5.3" fill="#cbcbcb"/><rect x="185.84" y="208.85" width="8.2" height="5.3" fill="#1470bb"/><rect x="195.52" y="208.85" width="8.2" height="5.3" fill="#cbcbcb"/><rect x="205.20" y="208.85" width="8.2" height="5.3" fill="#3a4c9c"/><rect x="214.88" y="208.85" width="8.2" height="5.3" fill="#cbcbcb"/><rect x="224.56" y="208.85" width="8.2" height="5.3" fill="#cbcbcb"/><rect x="234.24" y="208.85" width="8.2" height="5.3" fill="#cbcbcb"/><rect x="243.92" y="208.85" width="8.2" height="5.3" fill="#cbcbcb"/><rect x="253.60" y="208.85" width="8.2" height="5.3" fill="#cbcbcb"/><rect x="263.28" y="208.85" width="8.2" height="5.3" fill="#cbcbcb"/><rect x="272.96" y="208.85" width="8.2" height="5.3" fill="#cbcbcb"/><rect x="282.64" y="208.85" width="8.2" height="5.3" fill="#cbcbcb"/><rect x="292.32" y="208.85" width="8.2" height="5.3" fill="#cbcbcb"/><rect x="302.00" y="208.85" width="8.2" height="5.3" fill="#cbcbcb"/><rect x="311.68" y="208.85" width="8.2" height="5.3" fill="#cbcbcb"/><rect x="321.36" y="208.85" width="8.2" height="5.3" fill="#56bfee"/><rect x="331.04" y="208.85" width="8.2" height="5.3" fill="#cbcbcb"/><rect x="340.72" y="208.85" width="8.2" height="5.3" fill="#cbcbcb"/><rect x="350.40" y="208.85" width="8.2" height="5.3" fill="#cbcbcb"/><rect x="360.08" y="208.85" width="8.2" height="5.3" fill="#cbcbcb"/><rect x="369.76" y="208.85" width="8.2" height="5.3" fill="#cbcbcb"/><rect x="379.44" y="208.85" width="8.2" height="5.3" fill="#1470bb"/><rect x="389.12" y="208.85" width="8.2" height="5.3" fill="#56bfee"/><rect x="398.80" y="208.85" width="8.2" height="5.3" fill="#cbcbcb"/><rect x="408.48" y="208.85" width="8.2" height="5.3" fill="#56bfee"/><rect x="418.16" y="208.85" width="8.2" height="5.3" fill="#cbcbcb"/><rect x="427.84" y="208.85" width="8.2" height="5.3" fill="#cbcbcb"/><rect x="437.52" y="208.85" width="8.2" height="5.3" fill="#1470bb"/><rect x="447.20" y="208.85" width="8.2" height="5.3" fill="#cbcbcb"/><rect x="456.88" y="208.85" width="8.2" height="5.3" fill="#cbcbcb"/><rect x="466.56" y="208.85" width="8.2" height="5.3" fill="#cbcbcb"/><rect x="476.24" y="208.85" width="8.2" height="5.3" fill="#cbcbcb"/><rect x="485.92" y="208.85" width="8.2" height="5.3" fill="#cbcbcb"/><rect x="495.60" y="208.85" width="8.2" height="5.3" fill="#cbcbcb"/><rect x="505.28" y="208.85" width="8.2" height="5.3" fill="#cbcbcb"/><rect x="60.00" y="214.62" width="8.2" height="5.3" fill="#cbcbcb"/><rect x="69.68" y="214.62" width="8.2" height="5.3" fill="#cbcbcb"/><rect x="79.36" y="214.62" width="8.2" height="5.3" fill="#cbcbcb"/><rect x="89.04" y="214.62" width="8.2" height="5.3" fill="#cbcbcb"/><rect x="98.72" y="214.62" width="8.2" height="5.3" fill="#cbcbcb"/><rect x="108.40" y="214.62" width="8.2" height="5.3" fill="#cbcbcb"/><rect x="118.08" y="214.62" width="8.2" height="5.3" fill="#cbcbcb"/><rect x="127.76" y="214.62" width="8.2" height="5.3" fill="#cbcbcb"/><rect x="137.44" y="214.62" width="8.2" height="5.3" fill="#cbcbcb"/><rect x="147.12" y="214.62" width="8.2" height="5.3" fill="#cbcbcb"/><rect x="156.80" y="214.62" width="8.2" height="5.3" fill="#cbcbcb"/><rect x="166.48" y="214.62" width="8.2" height="5.3" fill="#cbcbcb"/><rect x="176.16" y="214.62" width="8.2" height="5.3" fill="#cbcbcb"/><rect x="185.84" y="214.62" width="8.2" height="5.3" fill="#cbcbcb"/><rect x="195.52" y="214.62" width="8.2" height="5.3" fill="#cbcbcb"/><rect x="205.20" y="214.62" width="8.2" height="5.3" fill="#cbcbcb"/><rect x="214.88" y="214.62" width="8.2" height="5.3" fill="#cbcbcb"/><rect x="224.56" y="214.62" width="8.2" height="5.3" fill="#cbcbcb"/><rect x="234.24" y="214.62" width="8.2" height="5.3" fill="#cbcbcb"/><rect x="243.92" y="214.62" width="8.2" height="5.3" fill="#cbcbcb"/><rect x="253.60" y="214.62" width="8.2" height="5.3" fill="#cbcbcb"/><rect x="263.28" y="214.62" width="8.2" height="5.3" fill="#cbcbcb"/><rect x="272.96" y="214.62" width="8.2" height="5.3" fill="#cbcbcb"/><rect x="282.64" y="214.62" width="8.2" height="5.3" fill="#cbcbcb"/><rect x="292.32" y="214.62" width="8.2" height="5.3" fill="#cbcbcb"/><rect x="302.00" y="214.62" width="8.2" height="5.3" fill="#56bfee"/><rect x="311.68" y="214.62" width="8.2" height="5.3" fill="#cbcbcb"/><rect x="321.36" y="214.62" width="8.2" height="5.3" fill="#cbcbcb"/><rect x="331.04" y="214.62" width="8.2" height="5.3" fill="#cbcbcb"/><rect x="340.72" y="214.62" width="8.2" height="5.3" fill="#cbcbcb"/><rect x="350.40" y="214.62" width="8.2" height="5.3" fill="#cbcbcb"/><rect x="360.08" y="214.62" width="8.2" height="5.3" fill="#cbcbcb"/><rect x="369.76" y="214.62" width="8.2" height="5.3" fill="#cbcbcb"/><rect x="379.44" y="214.62" width="8.2" height="5.3" fill="#cbcbcb"/><rect x="389.12" y="214.62" width="8.2" height="5.3" fill="#cbcbcb"/><rect x="398.80" y="214.62" width="8.2" height="5.3" fill="#cbcbcb"/><rect x="408.48" y="214.62" width="8.2" height="5.3" fill="#cbcbcb"/><rect x="418.16" y="214.62" width="8.2" height="5.3" fill="#cbcbcb"/><rect x="427.84" y="214.62" width="8.2" height="5.3" fill="#cbcbcb"/><rect x="437.52" y="214.62" width="8.2" height="5.3" fill="#cbcbcb"/><rect x="447.20" y="214.62" width="8.2" height="5.3" fill="#cbcbcb"/><rect x="456.88" y="214.62" width="8.2" height="5.3" fill="#cbcbcb"/><rect x="466.56" y="214.62" width="8.2" height="5.3" fill="#cbcbcb"/><rect x="476.24" y="214.62" width="8.2" height="5.3" fill="#cbcbcb"/><rect x="485.92" y="214.62" width="8.2" height="5.3" fill="#cbcbcb"/><rect x="495.60" y="214.62" width="8.2" height="5.3" fill="#cbcbcb"/><rect x="505.28" y="214.62" width="8.2" height="5.3" fill="#cbcbcb"/>
<g transform="translate(56.4,0) rotate(0.02) scale(0.1000,0.1)"><text x="0" y="116.2" class="g">ATM</text><text x="0" y="174.5" class="g">DDX41</text><text x="0" y="232.8" class="g">CHEK2</text><text x="0" y="291.1" class="g">CSF3R</text><text x="0" y="349.4" class="g">FANCA</text><text x="0" y="407.7" class="g">FANCM</text><text x="0" y="466.0" class="g">SBDS</text><text x="0" y="524.3" class="g">DNAJC21</text><text x="0" y="634.2" class="g">ASXL1</text><text x="0" y="692.0" class="g">ATM</text><text x="0" y="749.7" class="g">BCOR</text><text x="0" y="807.5" class="g">CBL</text><text x="0" y="865.2" class="g">CEBPA</text><text x="0" y="923.0" class="g">DDX41</text><text x="0" y="980.7" class="g">DNMT3A</text><text x="0" y="1038.5" class="g">ETV6</text><text x="0" y="1096.2" class="g">EZH2</text><text x="0" y="1154.0" class="g">FLT3</text><text x="0" y="1211.7" class="g">IDH1</text><text x="0" y="1269.5" class="g">IDH2</text><text x="0" y="1327.2" class="g">KIT</text><text x="0" y="1385.0" class="g">KRAS</text><text x="0" y="1442.7" class="g">MPL</text><text x="0" y="1500.5" class="g">NF1</text><text x="0" y="1558.2" class="g">NRAS</text><text x="0" y="1616.0" class="g">PHF6</text><text x="0" y="1673.7" class="g">PTPN11</text><text x="0" y="1731.5" class="g">RUNX1</text><text x="0" y="1789.2" class="g">SETBP1</text><text x="0" y="1847.0" class="g">SF3B1</text><text x="0" y="1904.7" class="g">SRSF2</text><text x="0" y="1962.5" class="g">STAG2</text><text x="0" y="2020.2" class="g">TET2</text><text x="0" y="2078.0" class="g">TP53</text><text x="0" y="2135.7" class="g">WT1</text><text x="0" y="2193.5" class="g">ZRSR2</text></g>
<text transform="translate(65.74,223.2) rotate(-89.98)" x="0" y="0" class="c">AO6357</text><text transform="translate(75.42,223.2) rotate(-89.98)" x="0" y="0" class="c">AO6355</text><text transform="translate(85.10,223.2) rotate(-89.98)" x="0" y="0" class="c">AO6358</text><text transform="translate(94.78,223.2) rotate(-89.98)" x="0" y="0" class="c">AO6389</text><text transform="translate(104.46,223.2) rotate(-89.98)" x="0" y="0" class="c">AO6388</text><text transform="translate(114.14,223.2) rotate(-89.98)" x="0" y="0" class="c">AO6329</text><text transform="translate(123.82,223.2) rotate(-89.98)" x="0" y="0" class="c">AO6347</text><text transform="translate(133.50,223.2) rotate(-89.98)" x="0" y="0" class="c">AO6336</text><text transform="translate(143.18,223.2) rotate(-89.98)" x="0" y="0" class="c">AO6380</text><text transform="translate(152.86,223.2) rotate(-89.98)" x="0" y="0" class="c">AO6325</text><text transform="translate(162.54,223.2) rotate(-89.98)" x="0" y="0" class="c">AO6361</text><text transform="translate(172.22,223.2) rotate(-89.98)" x="0" y="0" class="c">AO6333</text><text transform="translate(181.90,223.2) rotate(-89.98)" x="0" y="0" class="c">AO6364</text><text transform="translate(191.58,223.2) rotate(-89.98)" x="0" y="0" class="c">AO6344</text><text transform="translate(201.26,223.2) rotate(-89.98)" x="0" y="0" class="c">AO6300</text><text transform="translate(210.94,223.2) rotate(-89.98)" x="0" y="0" class="c">AO6353</text><text transform="translate(220.62,223.2) rotate(-89.98)" x="0" y="0" class="c">AO6378</text><text transform="translate(230.30,223.2) rotate(-89.98)" x="0" y="0" class="c">AO6354</text><text transform="translate(239.98,223.2) rotate(-89.98)" x="0" y="0" class="c">AO6394</text><text transform="translate(249.66,223.2) rotate(-89.98)" x="0" y="0" class="c">AO6381</text><text transform="translate(259.34,223.2) rotate(-89.98)" x="0" y="0" class="c">AO6342</text><text transform="translate(269.02,223.2) rotate(-89.98)" x="0" y="0" class="c">AO6391</text><text transform="translate(278.70,223.2) rotate(-89.98)" x="0" y="0" class="c">AO6371</text><text transform="translate(288.38,223.2) rotate(-89.98)" x="0" y="0" class="c">AO6334</text><text transform="translate(298.06,223.2) rotate(-89.98)" x="0" y="0" class="c">AO6362</text><text transform="translate(307.74,223.2) rotate(-89.98)" x="0" y="0" class="c">AO6383</text><text transform="translate(317.42,223.2) rotate(-89.98)" x="0" y="0" class="c">AO6398</text><text transform="translate(327.10,223.2) rotate(-89.98)" x="0" y="0" class="c">AO6369</text><text transform="translate(336.78,223.2) rotate(-89.98)" x="0" y="0" class="c">AO6340</text><text transform="translate(346.46,223.2) rotate(-89.98)" x="0" y="0" class="c">AO6397</text><text transform="translate(356.14,223.2) rotate(-89.98)" x="0" y="0" class="c">AO6327</text><text transform="translate(365.82,223.2) rotate(-89.98)" x="0" y="0" class="c">AO6351</text><text transform="translate(375.50,223.2) rotate(-89.98)" x="0" y="0" class="c">AO6453</text><text transform="translate(385.18,223.2) rotate(-89.98)" x="0" y="0" class="c">AO6370</text><text transform="translate(394.86,223.2) rotate(-89.98)" x="0" y="0" class="c">AO6451</text><text transform="translate(404.54,223.2) rotate(-89.98)" x="0" y="0" class="c">AO6386</text><text transform="translate(414.22,223.2) rotate(-89.98)" x="0" y="0" class="c">AO6324</text><text transform="translate(423.90,223.2) rotate(-89.98)" x="0" y="0" class="c">AO6372</text><text transform="translate(433.58,223.2) rotate(-89.98)" x="0" y="0" class="c">AO6365</text><text transform="translate(443.26,223.2) rotate(-89.98)" x="0" y="0" class="c">AO6395</text><text transform="translate(452.94,223.2) rotate(-89.98)" x="0" y="0" class="c">AO6331</text><text transform="translate(462.62,223.2) rotate(-89.98)" x="0" y="0" class="c">AO6335</text><text transform="translate(472.30,223.2) rotate(-89.98)" x="0" y="0" class="c">AO6390</text><text transform="translate(481.98,223.2) rotate(-89.98)" x="0" y="0" class="c">AO6382</text><text transform="translate(491.66,223.2) rotate(-89.98)" x="0" y="0" class="c">AO6337</text><text transform="translate(501.34,223.2) rotate(-89.98)" x="0" y="0" class="c">AO6352</text><text transform="translate(511.02,223.2) rotate(-89.98)" x="0" y="0" class="c">AO6363</text>
<rect x="130.8" y="249.8" width="5.2" height="4.8" fill="#cbcbcb"/><text x="139.4" y="254.3" class="l">No mutation</text><rect x="177.9" y="249.8" width="5.2" height="4.8" fill="#2d1c84"/><text x="186.2" y="254.3" class="l">Germline mutation</text><rect x="239.8" y="249.8" width="5.2" height="4.8" fill="#56bfee"/><text x="247.9" y="254.3" class="l">One somatic mutation</text><rect x="310.4" y="249.8" width="5.2" height="4.8" fill="#1470bb"/><text x="318.7" y="254.3" class="l">Two somatic mutations</text><rect x="380.7" y="249.8" width="5.2" height="4.8" fill="#3a4c9c"/><text x="388.8" y="254.3" class="l">Four somatic mutations</text>
<g transform="translate(14.2,29.6) rotate(-89.98) scale(0.65,1)"><text class="b" x="0" y="0">Germline</text></g>
<g transform="translate(24.0,29.6) rotate(-89.98) scale(0.70,1)"><text class="b" x="0" y="0">mutations</text></g>
<g transform="translate(23.8,139) rotate(-89.98) scale(0.69,1)"><text class="b" x="0" y="0">Somatic mutations</text></g>
</g>
<rect x="0.5" y="0.5" width="519" height="261" fill="none" stroke="#5a5a5a" stroke-width="1"/>
</svg></div></body></html>
